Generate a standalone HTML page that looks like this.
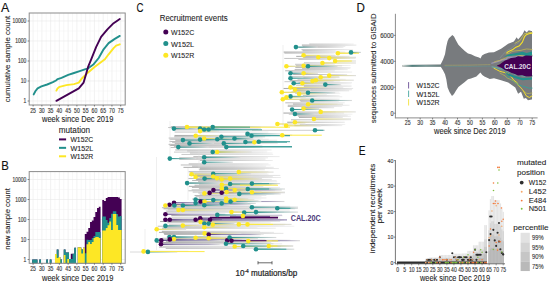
<!DOCTYPE html>
<html><head><meta charset="utf-8"><style>
html,body{margin:0;padding:0;background:#fff;width:550px;height:282px;overflow:hidden}
svg{display:block;font-family:"Liberation Sans",sans-serif}
</style></head><body>
<svg width="550" height="282" viewBox="0 0 550 282">
<line x1="33.1" y1="13" x2="33.1" y2="105" stroke="#e9e9e9" stroke-width="0.6"/>
<line x1="37.48" y1="13" x2="37.48" y2="105" stroke="#f3f3f3" stroke-width="0.6"/>
<line x1="41.86" y1="13" x2="41.86" y2="105" stroke="#e9e9e9" stroke-width="0.6"/>
<line x1="46.24" y1="13" x2="46.24" y2="105" stroke="#f3f3f3" stroke-width="0.6"/>
<line x1="50.62" y1="13" x2="50.62" y2="105" stroke="#e9e9e9" stroke-width="0.6"/>
<line x1="55" y1="13" x2="55" y2="105" stroke="#f3f3f3" stroke-width="0.6"/>
<line x1="59.38" y1="13" x2="59.38" y2="105" stroke="#e9e9e9" stroke-width="0.6"/>
<line x1="63.76" y1="13" x2="63.76" y2="105" stroke="#f3f3f3" stroke-width="0.6"/>
<line x1="68.14" y1="13" x2="68.14" y2="105" stroke="#e9e9e9" stroke-width="0.6"/>
<line x1="72.52" y1="13" x2="72.52" y2="105" stroke="#f3f3f3" stroke-width="0.6"/>
<line x1="76.9" y1="13" x2="76.9" y2="105" stroke="#e9e9e9" stroke-width="0.6"/>
<line x1="81.28" y1="13" x2="81.28" y2="105" stroke="#f3f3f3" stroke-width="0.6"/>
<line x1="85.66" y1="13" x2="85.66" y2="105" stroke="#e9e9e9" stroke-width="0.6"/>
<line x1="90.04" y1="13" x2="90.04" y2="105" stroke="#f3f3f3" stroke-width="0.6"/>
<line x1="94.42" y1="13" x2="94.42" y2="105" stroke="#e9e9e9" stroke-width="0.6"/>
<line x1="98.8" y1="13" x2="98.8" y2="105" stroke="#f3f3f3" stroke-width="0.6"/>
<line x1="103.18" y1="13" x2="103.18" y2="105" stroke="#e9e9e9" stroke-width="0.6"/>
<line x1="107.56" y1="13" x2="107.56" y2="105" stroke="#f3f3f3" stroke-width="0.6"/>
<line x1="111.94" y1="13" x2="111.94" y2="105" stroke="#e9e9e9" stroke-width="0.6"/>
<line x1="116.32" y1="13" x2="116.32" y2="105" stroke="#f3f3f3" stroke-width="0.6"/>
<line x1="120.7" y1="13" x2="120.7" y2="105" stroke="#e9e9e9" stroke-width="0.6"/>
<line x1="125.08" y1="13" x2="125.08" y2="105" stroke="#f3f3f3" stroke-width="0.6"/>
<line x1="29.2" y1="101" x2="125.2" y2="101" stroke="#e9e9e9" stroke-width="0.6"/>
<line x1="29.2" y1="91" x2="125.2" y2="91" stroke="#f3f3f3" stroke-width="0.5"/>
<line x1="29.2" y1="81" x2="125.2" y2="81" stroke="#e9e9e9" stroke-width="0.6"/>
<line x1="29.2" y1="71" x2="125.2" y2="71" stroke="#f3f3f3" stroke-width="0.5"/>
<line x1="29.2" y1="61" x2="125.2" y2="61" stroke="#e9e9e9" stroke-width="0.6"/>
<line x1="29.2" y1="51" x2="125.2" y2="51" stroke="#f3f3f3" stroke-width="0.5"/>
<line x1="29.2" y1="41" x2="125.2" y2="41" stroke="#e9e9e9" stroke-width="0.6"/>
<line x1="29.2" y1="31" x2="125.2" y2="31" stroke="#f3f3f3" stroke-width="0.5"/>
<line x1="29.2" y1="21" x2="125.2" y2="21" stroke="#e9e9e9" stroke-width="0.6"/>
<polyline points="33.7,94.4 35.5,91 37.6,88.3 41.4,86.4 47.2,84.5 52.9,82.2 56,80.5 57.7,79.1 61.5,77.8 68.2,74.9 74,73 79.7,71.1 85.5,69.2 87.5,68.7 93.7,64.2 98.7,58 103.6,49.3 108.6,43.1 114.8,38.9 119.8,35.9" fill="none" stroke="#21908C" stroke-width="1.9" stroke-linejoin="round" stroke-linecap="round"/>
<polyline points="56.4,90.6 57.5,88.5 59.6,86.8 66.3,85.1 74,84.1 78.8,82.6 81.6,78.7 85.5,74.9 87.5,73 94.9,66.7 99.9,63 104.9,59.3 108.6,54.3 113.6,48.1 116.1,45.6 119.8,44.3" fill="none" stroke="#FDE725" stroke-width="1.9" stroke-linejoin="round" stroke-linecap="round"/>
<polyline points="56.4,100.8 78.8,88.3 83.6,82.6 86.4,73 88,67.2 91.2,59.3 96.2,46.8 101.1,36.9 107.4,29.4 113.6,23.2 119.8,19" fill="none" stroke="#440154" stroke-width="1.9" stroke-linejoin="round" stroke-linecap="round"/>
<rect x="29.2" y="13" width="96" height="92" fill="none" stroke="#8c8c8c" stroke-width="1"/>
<line x1="27.6" y1="101" x2="29.2" y2="101" stroke="#3a3a3a" stroke-width="0.6"/>
<text x="26.2" y="103.45" font-size="6.8" fill="#3a3a3a" text-anchor="end" stroke="#3a3a3a" stroke-width="0.15" textLength="2.76" lengthAdjust="spacingAndGlyphs">1</text>
<line x1="27.6" y1="81" x2="29.2" y2="81" stroke="#3a3a3a" stroke-width="0.6"/>
<text x="26.2" y="83.45" font-size="6.8" fill="#3a3a3a" text-anchor="end" stroke="#3a3a3a" stroke-width="0.15" textLength="5.52" lengthAdjust="spacingAndGlyphs">10</text>
<line x1="27.6" y1="61" x2="29.2" y2="61" stroke="#3a3a3a" stroke-width="0.6"/>
<text x="26.2" y="63.45" font-size="6.8" fill="#3a3a3a" text-anchor="end" stroke="#3a3a3a" stroke-width="0.15" textLength="8.28" lengthAdjust="spacingAndGlyphs">100</text>
<line x1="27.6" y1="41" x2="29.2" y2="41" stroke="#3a3a3a" stroke-width="0.6"/>
<text x="26.2" y="43.45" font-size="6.8" fill="#3a3a3a" text-anchor="end" stroke="#3a3a3a" stroke-width="0.15" textLength="11.04" lengthAdjust="spacingAndGlyphs">1000</text>
<line x1="27.6" y1="21" x2="29.2" y2="21" stroke="#3a3a3a" stroke-width="0.6"/>
<text x="26.2" y="23.45" font-size="6.8" fill="#3a3a3a" text-anchor="end" stroke="#3a3a3a" stroke-width="0.15" textLength="13.8" lengthAdjust="spacingAndGlyphs">10000</text>
<line x1="33.1" y1="105" x2="33.1" y2="106.5" stroke="#3a3a3a" stroke-width="0.6"/>
<text x="33.1" y="112.65" font-size="6.8" fill="#3a3a3a" text-anchor="middle" stroke="#3a3a3a" stroke-width="0.15" textLength="5.7" lengthAdjust="spacingAndGlyphs">25</text>
<line x1="41.86" y1="105" x2="41.86" y2="106.5" stroke="#3a3a3a" stroke-width="0.6"/>
<text x="41.86" y="112.65" font-size="6.8" fill="#3a3a3a" text-anchor="middle" stroke="#3a3a3a" stroke-width="0.15" textLength="5.7" lengthAdjust="spacingAndGlyphs">30</text>
<line x1="50.62" y1="105" x2="50.62" y2="106.5" stroke="#3a3a3a" stroke-width="0.6"/>
<text x="50.62" y="112.65" font-size="6.8" fill="#3a3a3a" text-anchor="middle" stroke="#3a3a3a" stroke-width="0.15" textLength="5.7" lengthAdjust="spacingAndGlyphs">35</text>
<line x1="59.38" y1="105" x2="59.38" y2="106.5" stroke="#3a3a3a" stroke-width="0.6"/>
<text x="59.38" y="112.65" font-size="6.8" fill="#3a3a3a" text-anchor="middle" stroke="#3a3a3a" stroke-width="0.15" textLength="5.7" lengthAdjust="spacingAndGlyphs">40</text>
<line x1="68.14" y1="105" x2="68.14" y2="106.5" stroke="#3a3a3a" stroke-width="0.6"/>
<text x="68.14" y="112.65" font-size="6.8" fill="#3a3a3a" text-anchor="middle" stroke="#3a3a3a" stroke-width="0.15" textLength="5.7" lengthAdjust="spacingAndGlyphs">45</text>
<line x1="76.9" y1="105" x2="76.9" y2="106.5" stroke="#3a3a3a" stroke-width="0.6"/>
<text x="76.9" y="112.65" font-size="6.8" fill="#3a3a3a" text-anchor="middle" stroke="#3a3a3a" stroke-width="0.15" textLength="5.7" lengthAdjust="spacingAndGlyphs">50</text>
<line x1="85.66" y1="105" x2="85.66" y2="106.5" stroke="#3a3a3a" stroke-width="0.6"/>
<text x="85.66" y="112.65" font-size="6.8" fill="#3a3a3a" text-anchor="middle" stroke="#3a3a3a" stroke-width="0.15" textLength="5.7" lengthAdjust="spacingAndGlyphs">55</text>
<line x1="94.42" y1="105" x2="94.42" y2="106.5" stroke="#3a3a3a" stroke-width="0.6"/>
<text x="94.42" y="112.65" font-size="6.8" fill="#3a3a3a" text-anchor="middle" stroke="#3a3a3a" stroke-width="0.15" textLength="5.7" lengthAdjust="spacingAndGlyphs">60</text>
<line x1="103.18" y1="105" x2="103.18" y2="106.5" stroke="#3a3a3a" stroke-width="0.6"/>
<text x="103.18" y="112.65" font-size="6.8" fill="#3a3a3a" text-anchor="middle" stroke="#3a3a3a" stroke-width="0.15" textLength="5.7" lengthAdjust="spacingAndGlyphs">65</text>
<line x1="111.94" y1="105" x2="111.94" y2="106.5" stroke="#3a3a3a" stroke-width="0.6"/>
<text x="111.94" y="112.65" font-size="6.8" fill="#3a3a3a" text-anchor="middle" stroke="#3a3a3a" stroke-width="0.15" textLength="5.7" lengthAdjust="spacingAndGlyphs">70</text>
<line x1="120.7" y1="105" x2="120.7" y2="106.5" stroke="#3a3a3a" stroke-width="0.6"/>
<text x="120.7" y="112.65" font-size="6.8" fill="#3a3a3a" text-anchor="middle" stroke="#3a3a3a" stroke-width="0.15" textLength="5.7" lengthAdjust="spacingAndGlyphs">75</text>
<text x="0.9" y="11.68" font-size="13" fill="#111" text-anchor="start" stroke="#111" stroke-width="0.12" textLength="8.3" lengthAdjust="spacingAndGlyphs">A</text>
<text x="7.2" y="61.92" font-size="8.1" fill="#262626" text-anchor="middle" stroke="#262626" stroke-width="0.1" textLength="86.5" lengthAdjust="spacingAndGlyphs" transform="rotate(-90 7.2 59)">cumulative sample count</text>
<text x="77.7" y="122.17" font-size="8.8" fill="#262626" text-anchor="middle" stroke="#262626" stroke-width="0.1" textLength="71.4" lengthAdjust="spacingAndGlyphs">week since Dec 2019</text>
<text x="74.4" y="132.5" font-size="8.6" fill="#262626" text-anchor="middle" stroke="#262626" stroke-width="0.1" textLength="31.3" lengthAdjust="spacingAndGlyphs">mutation</text>
<line x1="59" y1="139.4" x2="66.1" y2="139.4" stroke="#440154" stroke-width="2"/>
<text x="70.4" y="142.21" font-size="7.8" fill="#262626" text-anchor="start" stroke="#262626" stroke-width="0.12" textLength="22.8" lengthAdjust="spacingAndGlyphs">W152C</text>
<line x1="59" y1="147.85" x2="66.1" y2="147.85" stroke="#21908C" stroke-width="2"/>
<text x="70.4" y="150.66" font-size="7.8" fill="#262626" text-anchor="start" stroke="#262626" stroke-width="0.12" textLength="22.8" lengthAdjust="spacingAndGlyphs">W152L</text>
<line x1="59" y1="156.3" x2="66.1" y2="156.3" stroke="#FDE725" stroke-width="2"/>
<text x="70.4" y="159.11" font-size="7.8" fill="#262626" text-anchor="start" stroke="#262626" stroke-width="0.12" textLength="22.8" lengthAdjust="spacingAndGlyphs">W152R</text>
<line x1="33.1" y1="171.6" x2="33.1" y2="263.3" stroke="#e9e9e9" stroke-width="0.6"/>
<line x1="37.48" y1="171.6" x2="37.48" y2="263.3" stroke="#f3f3f3" stroke-width="0.6"/>
<line x1="41.86" y1="171.6" x2="41.86" y2="263.3" stroke="#e9e9e9" stroke-width="0.6"/>
<line x1="46.24" y1="171.6" x2="46.24" y2="263.3" stroke="#f3f3f3" stroke-width="0.6"/>
<line x1="50.62" y1="171.6" x2="50.62" y2="263.3" stroke="#e9e9e9" stroke-width="0.6"/>
<line x1="55" y1="171.6" x2="55" y2="263.3" stroke="#f3f3f3" stroke-width="0.6"/>
<line x1="59.38" y1="171.6" x2="59.38" y2="263.3" stroke="#e9e9e9" stroke-width="0.6"/>
<line x1="63.76" y1="171.6" x2="63.76" y2="263.3" stroke="#f3f3f3" stroke-width="0.6"/>
<line x1="68.14" y1="171.6" x2="68.14" y2="263.3" stroke="#e9e9e9" stroke-width="0.6"/>
<line x1="72.52" y1="171.6" x2="72.52" y2="263.3" stroke="#f3f3f3" stroke-width="0.6"/>
<line x1="76.9" y1="171.6" x2="76.9" y2="263.3" stroke="#e9e9e9" stroke-width="0.6"/>
<line x1="81.28" y1="171.6" x2="81.28" y2="263.3" stroke="#f3f3f3" stroke-width="0.6"/>
<line x1="85.66" y1="171.6" x2="85.66" y2="263.3" stroke="#e9e9e9" stroke-width="0.6"/>
<line x1="90.04" y1="171.6" x2="90.04" y2="263.3" stroke="#f3f3f3" stroke-width="0.6"/>
<line x1="94.42" y1="171.6" x2="94.42" y2="263.3" stroke="#e9e9e9" stroke-width="0.6"/>
<line x1="98.8" y1="171.6" x2="98.8" y2="263.3" stroke="#f3f3f3" stroke-width="0.6"/>
<line x1="103.18" y1="171.6" x2="103.18" y2="263.3" stroke="#e9e9e9" stroke-width="0.6"/>
<line x1="107.56" y1="171.6" x2="107.56" y2="263.3" stroke="#f3f3f3" stroke-width="0.6"/>
<line x1="111.94" y1="171.6" x2="111.94" y2="263.3" stroke="#e9e9e9" stroke-width="0.6"/>
<line x1="116.32" y1="171.6" x2="116.32" y2="263.3" stroke="#f3f3f3" stroke-width="0.6"/>
<line x1="120.7" y1="171.6" x2="120.7" y2="263.3" stroke="#e9e9e9" stroke-width="0.6"/>
<line x1="125.08" y1="171.6" x2="125.08" y2="263.3" stroke="#f3f3f3" stroke-width="0.6"/>
<line x1="29.2" y1="259.5" x2="125.2" y2="259.5" stroke="#e9e9e9" stroke-width="0.6"/>
<line x1="29.2" y1="249.5" x2="125.2" y2="249.5" stroke="#f3f3f3" stroke-width="0.5"/>
<line x1="29.2" y1="239.5" x2="125.2" y2="239.5" stroke="#e9e9e9" stroke-width="0.6"/>
<line x1="29.2" y1="229.5" x2="125.2" y2="229.5" stroke="#f3f3f3" stroke-width="0.5"/>
<line x1="29.2" y1="219.5" x2="125.2" y2="219.5" stroke="#e9e9e9" stroke-width="0.6"/>
<line x1="29.2" y1="209.5" x2="125.2" y2="209.5" stroke="#f3f3f3" stroke-width="0.5"/>
<line x1="29.2" y1="199.5" x2="125.2" y2="199.5" stroke="#e9e9e9" stroke-width="0.6"/>
<line x1="29.2" y1="189.5" x2="125.2" y2="189.5" stroke="#f3f3f3" stroke-width="0.5"/>
<line x1="29.2" y1="179.5" x2="125.2" y2="179.5" stroke="#e9e9e9" stroke-width="0.6"/>
<polygon points="32.22,263.3 32.22,259.5 33.98,259.5 33.98,259.5 35.73,259.5 35.73,259.5 37.48,259.5 37.48,263.3 39.23,263.3 39.23,259.5 40.98,259.5 40.98,263.3 42.74,263.3 42.74,263.3 44.49,263.3 44.49,263.3 46.24,263.3 46.24,259.5 47.99,259.5 47.99,263.3 49.74,263.3 49.74,259.5 51.5,259.5 51.5,263.3 53.25,263.3 53.25,263.3 55,263.3 55,254 56.75,254 56.75,249.5 58.5,249.5 58.5,257 60.26,257 60.26,259.5 62.01,259.5 62.01,263.3 63.76,263.3 63.76,249.5 65.51,249.5 65.51,252.5 67.26,252.5 67.26,252.5 69.02,252.5 69.02,259 70.77,259 70.77,253.7 72.52,253.7 72.52,253.7 74.27,253.7 74.27,247.7 76.02,247.7 76.02,263.3 77.78,263.3 77.78,247.2 79.53,247.2 79.53,247.5 81.28,247.5 81.28,249.5 83.03,249.5 83.03,247.7 84.78,247.7 84.78,234 86.54,234 86.54,231.8 88.29,231.8 88.29,228 90.04,228 90.04,222 91.79,222 91.79,220.5 93.54,220.5 93.54,217 95.3,217 95.3,212 97.05,212 97.05,208 98.8,208 98.8,206.8 100.55,206.8 100.55,263.3 102.3,263.3 102.3,200 104.06,200 104.06,201 105.81,201 105.81,198 107.56,198 107.56,197 109.31,197 109.31,197 111.06,197 111.06,197 112.82,197 112.82,197 114.57,197 114.57,197 116.32,197 116.32,197 118.07,197 118.07,197.5 119.82,197.5 119.82,199 121.58,199 121.58,263.3" fill="#440154"/>
<polygon points="32.22,263.3 32.22,259.5 33.98,259.5 33.98,259.5 35.73,259.5 35.73,259.5 37.48,259.5 37.48,263.3 39.23,263.3 39.23,259.5 40.98,259.5 40.98,263.3 42.74,263.3 42.74,263.3 44.49,263.3 44.49,263.3 46.24,263.3 46.24,259.5 47.99,259.5 47.99,263.3 49.74,263.3 49.74,259.5 51.5,259.5 51.5,263.3 53.25,263.3 53.25,263.3 55,263.3 55,254 56.75,254 56.75,249.5 58.5,249.5 58.5,257 60.26,257 60.26,259.5 62.01,259.5 62.01,263.3 63.76,263.3 63.76,249.5 65.51,249.5 65.51,252.5 67.26,252.5 67.26,252.5 69.02,252.5 69.02,259 70.77,259 70.77,259 72.52,259 72.52,253.7 74.27,253.7 74.27,247.7 76.02,247.7 76.02,263.3 77.78,263.3 77.78,247.2 79.53,247.2 79.53,247.5 81.28,247.5 81.28,249.5 83.03,249.5 83.03,247.7 84.78,247.7 84.78,253.2 86.54,253.2 86.54,239.8 88.29,239.8 88.29,240 90.04,240 90.04,240 91.79,240 91.79,238 93.54,238 93.54,236 95.3,236 95.3,232 97.05,232 97.05,232 98.8,232 98.8,232 100.55,232 100.55,263.3 102.3,263.3 102.3,216.4 104.06,216.4 104.06,216.4 105.81,216.4 105.81,220 107.56,220 107.56,222.8 109.31,222.8 109.31,218 111.06,218 111.06,213.8 112.82,213.8 112.82,211.2 114.57,211.2 114.57,211.2 116.32,211.2 116.32,214 118.07,214 118.07,216.4 119.82,216.4 119.82,216 121.58,216 121.58,263.3" fill="#21908C"/>
<polygon points="32.22,263.3 32.22,263.3 33.98,263.3 33.98,263.3 35.73,263.3 35.73,263.3 37.48,263.3 37.48,263.3 39.23,263.3 39.23,263.3 40.98,263.3 40.98,263.3 42.74,263.3 42.74,263.3 44.49,263.3 44.49,263.3 46.24,263.3 46.24,263.3 47.99,263.3 47.99,263.3 49.74,263.3 49.74,263.3 51.5,263.3 51.5,263.3 53.25,263.3 53.25,263.3 55,263.3 55,254 56.75,254 56.75,258 58.5,258 58.5,257 60.26,257 60.26,263.3 62.01,263.3 62.01,263.3 63.76,263.3 63.76,255 65.51,255 65.51,263.3 67.26,263.3 67.26,259 69.02,259 69.02,263.3 70.77,263.3 70.77,263.3 72.52,263.3 72.52,263.3 74.27,263.3 74.27,263.3 76.02,263.3 76.02,263.3 77.78,263.3 77.78,247.2 79.53,247.2 79.53,247.5 81.28,247.5 81.28,253.4 83.03,253.4 83.03,247.7 84.78,247.7 84.78,263.3 86.54,263.3 86.54,244.3 88.29,244.3 88.29,242 90.04,242 90.04,244 91.79,244 91.79,242 93.54,242 93.54,238 95.3,238 95.3,237 97.05,237 97.05,237 98.8,237 98.8,238 100.55,238 100.55,263.3 102.3,263.3 102.3,230.5 104.06,230.5 104.06,230.5 105.81,230.5 105.81,228 107.56,228 107.56,225.3 109.31,225.3 109.31,221.5 111.06,221.5 111.06,230 112.82,230 112.82,214 114.57,214 114.57,214 116.32,214 116.32,225 118.07,225 118.07,230 119.82,230 119.82,230 121.58,230 121.58,263.3" fill="#FDE725"/>
<rect x="29.2" y="171.6" width="96" height="91.7" fill="none" stroke="#8c8c8c" stroke-width="1"/>
<line x1="27.6" y1="259.5" x2="29.2" y2="259.5" stroke="#3a3a3a" stroke-width="0.6"/>
<text x="26.2" y="261.95" font-size="6.8" fill="#3a3a3a" text-anchor="end" stroke="#3a3a3a" stroke-width="0.15" textLength="2.76" lengthAdjust="spacingAndGlyphs">1</text>
<line x1="27.6" y1="239.5" x2="29.2" y2="239.5" stroke="#3a3a3a" stroke-width="0.6"/>
<text x="26.2" y="241.95" font-size="6.8" fill="#3a3a3a" text-anchor="end" stroke="#3a3a3a" stroke-width="0.15" textLength="5.52" lengthAdjust="spacingAndGlyphs">10</text>
<line x1="27.6" y1="219.5" x2="29.2" y2="219.5" stroke="#3a3a3a" stroke-width="0.6"/>
<text x="26.2" y="221.95" font-size="6.8" fill="#3a3a3a" text-anchor="end" stroke="#3a3a3a" stroke-width="0.15" textLength="8.28" lengthAdjust="spacingAndGlyphs">100</text>
<line x1="27.6" y1="199.5" x2="29.2" y2="199.5" stroke="#3a3a3a" stroke-width="0.6"/>
<text x="26.2" y="201.95" font-size="6.8" fill="#3a3a3a" text-anchor="end" stroke="#3a3a3a" stroke-width="0.15" textLength="11.04" lengthAdjust="spacingAndGlyphs">1000</text>
<line x1="27.6" y1="179.5" x2="29.2" y2="179.5" stroke="#3a3a3a" stroke-width="0.6"/>
<text x="26.2" y="181.95" font-size="6.8" fill="#3a3a3a" text-anchor="end" stroke="#3a3a3a" stroke-width="0.15" textLength="13.8" lengthAdjust="spacingAndGlyphs">10000</text>
<line x1="33.1" y1="263.3" x2="33.1" y2="264.8" stroke="#3a3a3a" stroke-width="0.6"/>
<text x="33.1" y="270.95" font-size="6.8" fill="#3a3a3a" text-anchor="middle" stroke="#3a3a3a" stroke-width="0.15" textLength="5.7" lengthAdjust="spacingAndGlyphs">25</text>
<line x1="41.86" y1="263.3" x2="41.86" y2="264.8" stroke="#3a3a3a" stroke-width="0.6"/>
<text x="41.86" y="270.95" font-size="6.8" fill="#3a3a3a" text-anchor="middle" stroke="#3a3a3a" stroke-width="0.15" textLength="5.7" lengthAdjust="spacingAndGlyphs">30</text>
<line x1="50.62" y1="263.3" x2="50.62" y2="264.8" stroke="#3a3a3a" stroke-width="0.6"/>
<text x="50.62" y="270.95" font-size="6.8" fill="#3a3a3a" text-anchor="middle" stroke="#3a3a3a" stroke-width="0.15" textLength="5.7" lengthAdjust="spacingAndGlyphs">35</text>
<line x1="59.38" y1="263.3" x2="59.38" y2="264.8" stroke="#3a3a3a" stroke-width="0.6"/>
<text x="59.38" y="270.95" font-size="6.8" fill="#3a3a3a" text-anchor="middle" stroke="#3a3a3a" stroke-width="0.15" textLength="5.7" lengthAdjust="spacingAndGlyphs">40</text>
<line x1="68.14" y1="263.3" x2="68.14" y2="264.8" stroke="#3a3a3a" stroke-width="0.6"/>
<text x="68.14" y="270.95" font-size="6.8" fill="#3a3a3a" text-anchor="middle" stroke="#3a3a3a" stroke-width="0.15" textLength="5.7" lengthAdjust="spacingAndGlyphs">45</text>
<line x1="76.9" y1="263.3" x2="76.9" y2="264.8" stroke="#3a3a3a" stroke-width="0.6"/>
<text x="76.9" y="270.95" font-size="6.8" fill="#3a3a3a" text-anchor="middle" stroke="#3a3a3a" stroke-width="0.15" textLength="5.7" lengthAdjust="spacingAndGlyphs">50</text>
<line x1="85.66" y1="263.3" x2="85.66" y2="264.8" stroke="#3a3a3a" stroke-width="0.6"/>
<text x="85.66" y="270.95" font-size="6.8" fill="#3a3a3a" text-anchor="middle" stroke="#3a3a3a" stroke-width="0.15" textLength="5.7" lengthAdjust="spacingAndGlyphs">55</text>
<line x1="94.42" y1="263.3" x2="94.42" y2="264.8" stroke="#3a3a3a" stroke-width="0.6"/>
<text x="94.42" y="270.95" font-size="6.8" fill="#3a3a3a" text-anchor="middle" stroke="#3a3a3a" stroke-width="0.15" textLength="5.7" lengthAdjust="spacingAndGlyphs">60</text>
<line x1="103.18" y1="263.3" x2="103.18" y2="264.8" stroke="#3a3a3a" stroke-width="0.6"/>
<text x="103.18" y="270.95" font-size="6.8" fill="#3a3a3a" text-anchor="middle" stroke="#3a3a3a" stroke-width="0.15" textLength="5.7" lengthAdjust="spacingAndGlyphs">65</text>
<line x1="111.94" y1="263.3" x2="111.94" y2="264.8" stroke="#3a3a3a" stroke-width="0.6"/>
<text x="111.94" y="270.95" font-size="6.8" fill="#3a3a3a" text-anchor="middle" stroke="#3a3a3a" stroke-width="0.15" textLength="5.7" lengthAdjust="spacingAndGlyphs">70</text>
<line x1="120.7" y1="263.3" x2="120.7" y2="264.8" stroke="#3a3a3a" stroke-width="0.6"/>
<text x="120.7" y="270.95" font-size="6.8" fill="#3a3a3a" text-anchor="middle" stroke="#3a3a3a" stroke-width="0.15" textLength="5.7" lengthAdjust="spacingAndGlyphs">75</text>
<text x="1.2" y="169.88" font-size="13" fill="#111" text-anchor="start" stroke="#111" stroke-width="0.12" textLength="7.6" lengthAdjust="spacingAndGlyphs">B</text>
<text x="7.2" y="221.92" font-size="8.1" fill="#262626" text-anchor="middle" stroke="#262626" stroke-width="0.1" textLength="61.6" lengthAdjust="spacingAndGlyphs" transform="rotate(-90 7.2 219)">new sample count</text>
<text x="77.7" y="280.77" font-size="8.8" fill="#262626" text-anchor="middle" stroke="#262626" stroke-width="0.1" textLength="71.4" lengthAdjust="spacingAndGlyphs">week since Dec 2019</text>
<text x="136.6" y="12.48" font-size="13" fill="#111" text-anchor="start" stroke="#111" stroke-width="0.12" textLength="7" lengthAdjust="spacingAndGlyphs">C</text>
<text x="159.8" y="21.12" font-size="8.4" fill="#262626" text-anchor="start" stroke="#262626" stroke-width="0.1" textLength="67.9" lengthAdjust="spacingAndGlyphs">Recruitment events</text>
<circle cx="165.8" cy="32" r="2.5" fill="#440154"/>
<text x="170.9" y="34.96" font-size="7.4" fill="#262626" text-anchor="start" stroke="#262626" stroke-width="0.1" textLength="23.3" lengthAdjust="spacingAndGlyphs">W152C</text>
<circle cx="165.8" cy="43.6" r="2.5" fill="#21908C"/>
<text x="170.9" y="46.56" font-size="7.4" fill="#262626" text-anchor="start" stroke="#262626" stroke-width="0.1" textLength="23.3" lengthAdjust="spacingAndGlyphs">W152L</text>
<circle cx="165.8" cy="55.2" r="2.5" fill="#FDE725"/>
<text x="170.9" y="58.16" font-size="7.4" fill="#262626" text-anchor="start" stroke="#262626" stroke-width="0.1" textLength="23.3" lengthAdjust="spacingAndGlyphs">W152R</text>
<defs><linearGradient id="g1"><stop offset="0" stop-color="#aaaaaa"/><stop offset="0.55" stop-color="#c6c6c6"/><stop offset="1" stop-color="#e8e8e8"/></linearGradient><linearGradient id="g2"><stop offset="0" stop-color="#bbbbbb"/><stop offset="0.6" stop-color="#d2d2d2"/><stop offset="1" stop-color="#eeeeee"/></linearGradient><linearGradient id="g3"><stop offset="0" stop-color="#a8a8a8"/><stop offset="0.5" stop-color="#c8c8c8"/><stop offset="1" stop-color="#e6e6e6"/></linearGradient><linearGradient id="tT"><stop offset="0" stop-color="#21908C"/><stop offset="0.5" stop-color="#7fb3b0"/><stop offset="1" stop-color="#dcdcdc"/></linearGradient><linearGradient id="tY"><stop offset="0" stop-color="#f0dc40"/><stop offset="0.35" stop-color="#dcd68e"/><stop offset="1" stop-color="#dedede"/></linearGradient><linearGradient id="tP"><stop offset="0" stop-color="#5a3a7e"/><stop offset="0.25" stop-color="#8a7fa8"/><stop offset="0.8" stop-color="#aaa3bf"/><stop offset="1" stop-color="#dcdcdc"/></linearGradient></defs>
<rect x="309.21" y="43.6" width="44.49" height="0.8" fill="url(#g2)"/>
<rect x="301.85" y="44.57" width="54.51" height="1.1" fill="url(#g1)"/>
<rect x="302.54" y="46.06" width="42.82" height="0.8" fill="url(#g1)"/>
<rect x="299.18" y="46.93" width="44.27" height="1" fill="url(#g2)"/>
<rect x="301.5" y="49.22" width="51.44" height="1" fill="url(#g2)"/>
<rect x="302.57" y="50.33" width="33.1" height="1" fill="url(#g3)"/>
<rect x="283.62" y="51.53" width="61.64" height="1.1" fill="url(#g1)"/>
<rect x="284.4" y="52.63" width="49.93" height="0.9" fill="url(#g1)"/>
<rect x="296.22" y="55.86" width="53.35" height="1" fill="url(#g3)"/>
<rect x="303.25" y="56.89" width="45.92" height="0.9" fill="url(#g1)"/>
<rect x="284.26" y="57.94" width="65.68" height="0.9" fill="url(#g2)"/>
<rect x="298.37" y="59.12" width="38.25" height="0.8" fill="url(#g2)"/>
<rect x="303.96" y="62.37" width="30.44" height="1.1" fill="url(#g2)"/>
<rect x="295.12" y="63.82" width="39.73" height="0.9" fill="url(#g2)"/>
<rect x="295.82" y="64.99" width="54.79" height="0.8" fill="url(#g2)"/>
<rect x="296.37" y="65.87" width="37.94" height="1" fill="url(#g3)"/>
<rect x="295.33" y="67.02" width="55.31" height="1.1" fill="url(#g2)"/>
<rect x="302.08" y="68.14" width="48.28" height="0.9" fill="url(#g2)"/>
<rect x="294.63" y="69.06" width="53.11" height="1.1" fill="url(#g2)"/>
<rect x="285.18" y="70.35" width="49.59" height="0.9" fill="url(#g3)"/>
<rect x="291.84" y="71.55" width="60.26" height="1" fill="url(#g2)"/>
<rect x="293.07" y="74.04" width="54" height="1" fill="url(#g1)"/>
<rect x="291.64" y="76.38" width="47.34" height="0.9" fill="url(#g1)"/>
<rect x="303.43" y="77.34" width="32.41" height="1.1" fill="url(#g2)"/>
<rect x="297.52" y="78.83" width="48.17" height="0.8" fill="url(#g2)"/>
<rect x="290.51" y="80.15" width="49.73" height="0.8" fill="url(#g1)"/>
<rect x="284.41" y="81.34" width="55.81" height="0.8" fill="url(#g2)"/>
<rect x="298.48" y="82.22" width="53.53" height="1" fill="url(#g2)"/>
<rect x="301.92" y="83.41" width="49.5" height="0.8" fill="url(#g2)"/>
<rect x="296.12" y="84.71" width="45.52" height="0.8" fill="url(#g1)"/>
<rect x="303.86" y="85.54" width="47.74" height="1.1" fill="url(#g3)"/>
<rect x="292.61" y="87.01" width="50.64" height="0.8" fill="url(#g1)"/>
<rect x="283.47" y="87.94" width="69.68" height="1.1" fill="url(#g1)"/>
<rect x="293.21" y="89.25" width="58.72" height="1" fill="url(#g3)"/>
<rect x="293.89" y="90.21" width="55.19" height="1.1" fill="url(#g3)"/>
<rect x="291.5" y="91.46" width="47.51" height="0.9" fill="url(#g2)"/>
<rect x="295.25" y="92.76" width="45.08" height="0.9" fill="url(#g2)"/>
<rect x="302.95" y="95.25" width="36.59" height="0.8" fill="url(#g2)"/>
<rect x="287.5" y="96.28" width="54.78" height="1" fill="url(#g2)"/>
<rect x="300.4" y="98.71" width="39.16" height="1" fill="url(#g1)"/>
<rect x="299.62" y="99.84" width="34.76" height="1.1" fill="url(#g2)"/>
<rect x="300.42" y="101.12" width="38.33" height="0.8" fill="url(#g2)"/>
<rect x="285.29" y="102.47" width="59.42" height="0.8" fill="url(#g3)"/>
<rect x="292.98" y="103.54" width="44.6" height="1.1" fill="url(#g1)"/>
<rect x="287.76" y="104.71" width="61.82" height="1.1" fill="url(#g2)"/>
<rect x="287.7" y="106.09" width="54.51" height="0.9" fill="url(#g2)"/>
<rect x="301.63" y="107.13" width="32.5" height="1.1" fill="url(#g3)"/>
<rect x="291.19" y="111.51" width="44.56" height="1" fill="url(#g3)"/>
<rect x="283.33" y="112.52" width="60.77" height="1.1" fill="url(#g1)"/>
<rect x="288.78" y="113.76" width="63.61" height="0.8" fill="url(#g2)"/>
<rect x="294.2" y="114.73" width="53.54" height="1.1" fill="url(#g2)"/>
<rect x="298.19" y="115.74" width="52.6" height="1.1" fill="url(#g2)"/>
<rect x="298.91" y="117.02" width="43.87" height="0.9" fill="url(#g3)"/>
<rect x="291.01" y="119.3" width="59.9" height="1" fill="url(#g2)"/>
<rect x="287.22" y="121.7" width="57.5" height="1.1" fill="url(#g1)"/>
<rect x="299.82" y="123.97" width="45.43" height="0.8" fill="url(#g2)"/>
<rect x="294.31" y="125.1" width="47.96" height="1" fill="url(#g2)"/>
<rect x="170.72" y="126.14" width="104.8" height="1" fill="url(#g2)"/>
<rect x="168.24" y="127.24" width="91.27" height="0.8" fill="url(#g1)"/>
<rect x="173.5" y="128.21" width="87.56" height="0.9" fill="url(#g3)"/>
<rect x="173.85" y="129.41" width="82.22" height="0.9" fill="url(#g3)"/>
<rect x="174.6" y="131.6" width="93.79" height="0.9" fill="url(#g2)"/>
<rect x="174.48" y="134.95" width="101.08" height="1" fill="url(#g3)"/>
<rect x="174.23" y="136.31" width="83.64" height="0.9" fill="url(#g1)"/>
<rect x="168.71" y="137.51" width="93.99" height="1.1" fill="url(#g2)"/>
<rect x="169.61" y="138.83" width="99.09" height="0.8" fill="url(#g1)"/>
<rect x="175.29" y="139.76" width="101.92" height="1" fill="url(#g1)"/>
<rect x="169.51" y="141.01" width="85.25" height="0.8" fill="url(#g1)"/>
<rect x="172.12" y="141.93" width="95.1" height="0.9" fill="url(#g2)"/>
<rect x="174.72" y="143" width="103.04" height="0.8" fill="url(#g1)"/>
<rect x="168.62" y="143.86" width="86.8" height="1.1" fill="url(#g2)"/>
<rect x="169.68" y="145.08" width="92.65" height="0.9" fill="url(#g1)"/>
<rect x="173.91" y="146.1" width="89.22" height="0.9" fill="url(#g2)"/>
<rect x="170.59" y="147.09" width="84.53" height="0.9" fill="url(#g2)"/>
<rect x="175.29" y="149.41" width="96.32" height="1.1" fill="url(#g2)"/>
<rect x="187.09" y="150.51" width="80.31" height="0.9" fill="url(#g2)"/>
<rect x="173.98" y="151.68" width="92.86" height="0.8" fill="url(#g2)"/>
<rect x="189.88" y="152.53" width="82.6" height="1" fill="url(#g2)"/>
<rect x="181.46" y="153.96" width="91.74" height="0.8" fill="url(#g2)"/>
<rect x="193.33" y="156.27" width="86.27" height="0.8" fill="url(#g1)"/>
<rect x="179.19" y="157.42" width="88.85" height="0.9" fill="url(#g1)"/>
<rect x="179.24" y="158.53" width="86.27" height="1.1" fill="url(#g3)"/>
<rect x="199.86" y="160.01" width="72.9" height="0.8" fill="url(#g1)"/>
<rect x="188.7" y="163.36" width="79.89" height="1.1" fill="url(#g2)"/>
<rect x="180.75" y="164.48" width="89.86" height="1" fill="url(#g2)"/>
<rect x="192.06" y="165.7" width="73.86" height="0.9" fill="url(#g1)"/>
<rect x="183.45" y="166.84" width="90.24" height="1" fill="url(#g1)"/>
<rect x="199.69" y="168.14" width="79.2" height="0.9" fill="url(#g1)"/>
<rect x="199.25" y="169.16" width="65.63" height="1.1" fill="url(#g1)"/>
<rect x="188.6" y="171.31" width="79.82" height="0.9" fill="url(#g1)"/>
<rect x="189.86" y="172.51" width="77.23" height="1.1" fill="url(#g2)"/>
<rect x="194.99" y="173.69" width="73.5" height="1" fill="url(#g2)"/>
<rect x="189.37" y="174.93" width="90.95" height="1" fill="url(#g3)"/>
<rect x="194.78" y="176.04" width="78.01" height="0.9" fill="url(#g3)"/>
<rect x="199.76" y="177.12" width="81.14" height="0.8" fill="url(#g1)"/>
<rect x="188.32" y="177.97" width="70.63" height="1" fill="url(#g2)"/>
<rect x="196.12" y="178.9" width="75.65" height="1.1" fill="url(#g3)"/>
<rect x="192.12" y="180.19" width="84.5" height="0.8" fill="url(#g1)"/>
<rect x="198.06" y="181.17" width="79.17" height="1.1" fill="url(#g2)"/>
<rect x="189.81" y="182.47" width="72.03" height="1" fill="url(#g3)"/>
<rect x="199.05" y="183.74" width="69.64" height="0.8" fill="url(#g3)"/>
<rect x="194.52" y="184.72" width="74.28" height="1.1" fill="url(#g2)"/>
<rect x="188.91" y="185.84" width="74.42" height="1" fill="url(#g1)"/>
<rect x="191.94" y="186.99" width="88.11" height="1" fill="url(#g2)"/>
<rect x="198.88" y="188.2" width="67.19" height="1" fill="url(#g2)"/>
<rect x="191.66" y="189.38" width="74.28" height="0.9" fill="url(#g2)"/>
<rect x="188.29" y="190.36" width="86.64" height="0.9" fill="url(#g2)"/>
<rect x="192.68" y="191.61" width="69.19" height="0.9" fill="url(#g2)"/>
<rect x="198.26" y="192.65" width="80.04" height="0.8" fill="url(#g2)"/>
<rect x="199.6" y="193.81" width="74.68" height="0.8" fill="url(#g2)"/>
<rect x="194.55" y="195" width="71.82" height="0.8" fill="url(#g3)"/>
<rect x="195.61" y="196.26" width="65.99" height="0.9" fill="url(#g2)"/>
<rect x="198.89" y="197.39" width="67.56" height="1.1" fill="url(#g2)"/>
<rect x="192" y="198.63" width="69.42" height="0.8" fill="url(#g2)"/>
<rect x="168.52" y="205.83" width="121.55" height="1.1" fill="url(#g2)"/>
<rect x="161.95" y="207.19" width="123.11" height="1" fill="url(#g2)"/>
<rect x="163.5" y="208.18" width="131.59" height="1.1" fill="url(#g1)"/>
<rect x="167.78" y="209.4" width="121.5" height="0.8" fill="url(#g2)"/>
<rect x="165.77" y="210.65" width="124.24" height="0.8" fill="url(#g3)"/>
<rect x="167.06" y="211.63" width="116.94" height="0.9" fill="url(#g2)"/>
<rect x="171.3" y="215.09" width="111.21" height="1.1" fill="url(#g3)"/>
<rect x="171.48" y="217.48" width="108.99" height="1.1" fill="url(#g2)"/>
<rect x="166.33" y="219.87" width="115.14" height="0.8" fill="url(#g3)"/>
<rect x="160.13" y="220.94" width="120.05" height="1.1" fill="url(#g3)"/>
<rect x="167.27" y="222.26" width="103.45" height="1" fill="url(#g2)"/>
<rect x="168.9" y="224.59" width="115.68" height="0.9" fill="url(#g1)"/>
<rect x="157.66" y="225.77" width="136.57" height="0.9" fill="url(#g2)"/>
<rect x="164.31" y="226.65" width="93.06" height="1.1" fill="url(#g2)"/>
<rect x="162.06" y="227.73" width="113.7" height="0.9" fill="url(#g1)"/>
<rect x="161.83" y="230.82" width="98.26" height="1" fill="url(#g3)"/>
<rect x="158.97" y="231.89" width="115.05" height="1" fill="url(#g1)"/>
<rect x="163.68" y="232.82" width="119.73" height="1.1" fill="url(#g1)"/>
<rect x="164.23" y="233.78" width="99.46" height="1.1" fill="url(#g1)"/>
<rect x="166.72" y="236.38" width="93.13" height="1" fill="url(#g2)"/>
<rect x="162.22" y="237.76" width="94.69" height="0.9" fill="url(#g2)"/>
<rect x="159.03" y="238.81" width="106.3" height="1" fill="url(#g2)"/>
<rect x="156.32" y="239.99" width="124.65" height="0.9" fill="url(#g2)"/>
<rect x="165.88" y="241.06" width="113.79" height="0.8" fill="url(#g1)"/>
<rect x="156.61" y="242" width="114.69" height="1" fill="url(#g1)"/>
<rect x="161.65" y="243.27" width="120.48" height="1.1" fill="url(#g2)"/>
<rect x="162.97" y="245.76" width="104.33" height="0.8" fill="url(#g2)"/>
<rect x="158.99" y="246.76" width="113.87" height="0.9" fill="url(#g2)"/>
<rect x="165.73" y="247.87" width="114.79" height="1" fill="url(#g2)"/>
<line x1="283" y1="45" x2="283" y2="126" stroke="#dedede" stroke-width="0.5"/>
<line x1="170" y1="121" x2="170" y2="159" stroke="#dedede" stroke-width="0.5"/>
<line x1="156.5" y1="157" x2="156.5" y2="250" stroke="#dedede" stroke-width="0.5"/>
<line x1="145" y1="229" x2="145" y2="252" stroke="#dedede" stroke-width="0.5"/>
<line x1="188" y1="168" x2="188" y2="200" stroke="#dedede" stroke-width="0.5"/>
<line x1="199" y1="150" x2="199" y2="170" stroke="#dedede" stroke-width="0.5"/>
<line x1="130" y1="252" x2="147" y2="252" stroke="#d0d0d0" stroke-width="0.8"/>
<rect x="295.9" y="46.55" width="21.87" height="1.1" fill="url(#tT)"/>
<rect x="337.9" y="52.65" width="18.1" height="1.1" fill="url(#tY)"/>
<rect x="351" y="51.85" width="10" height="1.1" fill="url(#tT)"/>
<rect x="303.6" y="54.75" width="31.98" height="1.1" fill="url(#tY)"/>
<rect x="318.3" y="56.75" width="37.7" height="1.1" fill="url(#tY)"/>
<rect x="329.2" y="57.55" width="26.45" height="1.1" fill="url(#tY)"/>
<rect x="335.1" y="60.45" width="20.9" height="1.1" fill="url(#tY)"/>
<rect x="322.4" y="62.45" width="33.6" height="1.1" fill="url(#tY)"/>
<rect x="286.4" y="65.75" width="17.52" height="1.1" fill="url(#tY)"/>
<rect x="303.6" y="65.25" width="38.46" height="1.1" fill="url(#tY)"/>
<rect x="308" y="65.75" width="29.56" height="1.1" fill="url(#tT)"/>
<rect x="290.5" y="72.75" width="17.54" height="1.1" fill="url(#tT)"/>
<rect x="303.6" y="72.75" width="14.33" height="1.1" fill="url(#tY)"/>
<rect x="320.7" y="76.65" width="18.85" height="1.1" fill="url(#tY)"/>
<rect x="329.2" y="75.05" width="26.8" height="1.1" fill="url(#tY)"/>
<rect x="290.5" y="77.65" width="31.52" height="1.1" fill="url(#tT)"/>
<rect x="312.5" y="80.45" width="21.22" height="1.1" fill="url(#tY)"/>
<rect x="315.8" y="79.65" width="38.01" height="1.1" fill="url(#tY)"/>
<rect x="293.7" y="82.75" width="22.11" height="1.1" fill="url(#tT)"/>
<rect x="302.4" y="82.75" width="24.96" height="1.1" fill="url(#tY)"/>
<rect x="325.3" y="84.05" width="15.47" height="1.1" fill="url(#tT)"/>
<rect x="290.5" y="86.85" width="39.26" height="1.1" fill="url(#tY)"/>
<rect x="294.9" y="89.25" width="15.8" height="1.1" fill="url(#tY)"/>
<rect x="281.8" y="91.75" width="37.31" height="1.1" fill="url(#tY)"/>
<rect x="308" y="92.25" width="27.22" height="1.1" fill="url(#tT)"/>
<rect x="299.1" y="93.35" width="27.7" height="1.1" fill="url(#tY)"/>
<rect x="290.5" y="95.85" width="27.69" height="1.1" fill="url(#tT)"/>
<rect x="286.4" y="96.65" width="19.4" height="1.1" fill="url(#tY)"/>
<rect x="282.8" y="98.75" width="37.46" height="1.1" fill="url(#tY)"/>
<rect x="312.2" y="99.95" width="39.78" height="1.1" fill="url(#tT)"/>
<rect x="308.1" y="103.65" width="34.89" height="1.1" fill="url(#tY)"/>
<rect x="292.1" y="108.95" width="28.84" height="1.1" fill="url(#tT)"/>
<rect x="303.6" y="108.05" width="15.43" height="1.1" fill="url(#tY)"/>
<rect x="320.7" y="111.35" width="35.09" height="1.1" fill="url(#tY)"/>
<rect x="294.9" y="113.45" width="20.08" height="1.1" fill="url(#tT)"/>
<rect x="313.9" y="118.45" width="37.12" height="1.1" fill="url(#tY)"/>
<rect x="294.9" y="121.65" width="18.74" height="1.1" fill="url(#tY)"/>
<rect x="277.4" y="123.45" width="28.06" height="1.1" fill="url(#tY)"/>
<rect x="286.1" y="125.25" width="35.26" height="1.1" fill="url(#tY)"/>
<rect x="173.9" y="128.05" width="23.94" height="1.1" fill="url(#tT)"/>
<rect x="187" y="126.45" width="35.53" height="1.1" fill="url(#tY)"/>
<rect x="200.1" y="128.05" width="20.44" height="1.1" fill="url(#tT)"/>
<rect x="200.1" y="130.55" width="19.02" height="1.1" fill="url(#tY)"/>
<rect x="204.2" y="128.95" width="23.76" height="1.1" fill="url(#tT)"/>
<rect x="208.6" y="128.95" width="49.58" height="1.1" fill="url(#tT)"/>
<rect x="212.7" y="126.45" width="48.06" height="1.1" fill="url(#tT)"/>
<rect x="247.5" y="133.35" width="32.5" height="1.1" fill="url(#tT)"/>
<rect x="195.7" y="135.15" width="27.84" height="1.1" fill="url(#tY)"/>
<rect x="182.9" y="139.55" width="39.48" height="1.1" fill="url(#tT)"/>
<rect x="200.1" y="139.05" width="41.61" height="1.1" fill="url(#tT)"/>
<rect x="204.2" y="137.95" width="30.21" height="1.1" fill="url(#tY)"/>
<rect x="217.3" y="138.75" width="36.94" height="1.1" fill="url(#tT)"/>
<rect x="221.4" y="136.25" width="43.72" height="1.1" fill="url(#tT)"/>
<rect x="234.5" y="137.95" width="18.52" height="1.1" fill="url(#tT)"/>
<rect x="189.5" y="142.85" width="24.39" height="1.1" fill="url(#tT)"/>
<rect x="223.8" y="142.85" width="32.98" height="1.1" fill="url(#tT)"/>
<rect x="245.4" y="141.45" width="22.58" height="1.1" fill="url(#tT)"/>
<rect x="178.3" y="146.55" width="30.36" height="1.1" fill="url(#tT)"/>
<rect x="226.3" y="146.55" width="36.22" height="1.1" fill="url(#tT)"/>
<rect x="212.7" y="151.45" width="23.56" height="1.1" fill="url(#tT)"/>
<rect x="217.1" y="151.45" width="34.63" height="1.1" fill="url(#tY)"/>
<rect x="169.8" y="158.05" width="26.44" height="1.1" fill="url(#tT)"/>
<rect x="204.2" y="156.75" width="36.18" height="1.1" fill="url(#tT)"/>
<rect x="204.2" y="161.65" width="28.63" height="1.1" fill="url(#tT)"/>
<rect x="315" y="129.75" width="10" height="1.1" fill="url(#tT)"/>
<rect x="251.5" y="135.15" width="19.21" height="1.1" fill="url(#tT)"/>
<rect x="282.2" y="134.65" width="10" height="1.1" fill="url(#tY)"/>
<rect x="254.4" y="141.65" width="22.63" height="1.1" fill="url(#tY)"/>
<rect x="258.8" y="141.15" width="21.2" height="1.1" fill="url(#tT)"/>
<rect x="191.6" y="173.65" width="37.2" height="1.1" fill="url(#tY)"/>
<rect x="195.6" y="176.45" width="33.04" height="1.1" fill="url(#tY)"/>
<rect x="204.6" y="178.05" width="31.17" height="1.1" fill="url(#tT)"/>
<rect x="213.2" y="173.15" width="37.96" height="1.1" fill="url(#tT)"/>
<rect x="213.2" y="175.95" width="40.06" height="1.1" fill="url(#tY)"/>
<rect x="216.9" y="177.65" width="42.26" height="1.1" fill="url(#tY)"/>
<rect x="221.7" y="178.95" width="42.05" height="1.1" fill="url(#tY)"/>
<rect x="187.1" y="182.55" width="33.55" height="1.1" fill="url(#tT)"/>
<rect x="221.8" y="184.15" width="49.83" height="1.1" fill="url(#tY)"/>
<rect x="226" y="187.95" width="44.82" height="1.1" fill="url(#tT)"/>
<rect x="221.8" y="187.95" width="45.36" height="1.1" fill="url(#tY)"/>
<rect x="213.4" y="189.45" width="68.41" height="1.1" fill="url(#tP)"/>
<rect x="209.6" y="192.35" width="69.53" height="1.1" fill="url(#tP)"/>
<rect x="204.4" y="192.85" width="36.11" height="1.1" fill="url(#tY)"/>
<rect x="221.7" y="192.15" width="63.3" height="1.1" fill="url(#tP)"/>
<rect x="226.6" y="191.55" width="34.83" height="1.1" fill="url(#tY)"/>
<rect x="238.8" y="171.55" width="34.8" height="1.1" fill="url(#tY)"/>
<rect x="230.1" y="178.05" width="31.83" height="1.1" fill="url(#tY)"/>
<rect x="230.1" y="183.45" width="46.94" height="1.1" fill="url(#tT)"/>
<rect x="251.9" y="183.05" width="28.26" height="1.1" fill="url(#tT)"/>
<rect x="234.7" y="189.55" width="19.75" height="1.1" fill="url(#tY)"/>
<rect x="247.8" y="188.45" width="37.2" height="1.1" fill="url(#tT)"/>
<rect x="251.9" y="191.65" width="33.1" height="1.1" fill="url(#tY)"/>
<rect x="239.3" y="193.35" width="41.42" height="1.1" fill="url(#tT)"/>
<rect x="195.6" y="198.95" width="37.12" height="1.1" fill="url(#tT)"/>
<rect x="200.6" y="200.95" width="83.83" height="1.1" fill="url(#tP)"/>
<rect x="204.6" y="200.95" width="27.75" height="1.1" fill="url(#tY)"/>
<rect x="195.6" y="202.55" width="36.99" height="1.1" fill="url(#tT)"/>
<rect x="213.3" y="199.55" width="20.23" height="1.1" fill="url(#tT)"/>
<rect x="226.2" y="198.05" width="21.98" height="1.1" fill="url(#tY)"/>
<rect x="226.2" y="200.25" width="32.3" height="1.1" fill="url(#tY)"/>
<rect x="221.7" y="202.85" width="34.08" height="1.1" fill="url(#tT)"/>
<rect x="230.6" y="200.95" width="30.7" height="1.1" fill="url(#tT)"/>
<rect x="234.7" y="199.25" width="19.66" height="1.1" fill="url(#tY)"/>
<rect x="169.5" y="204.15" width="81.27" height="1.1" fill="url(#tP)"/>
<rect x="174" y="202.25" width="73.68" height="1.1" fill="url(#tP)"/>
<rect x="174.4" y="204.95" width="25.65" height="1.1" fill="url(#tT)"/>
<rect x="165.4" y="204.95" width="27.8" height="1.1" fill="url(#tY)"/>
<rect x="182.9" y="204.95" width="30.66" height="1.1" fill="url(#tT)"/>
<rect x="204.3" y="204.65" width="25.55" height="1.1" fill="url(#tT)"/>
<rect x="178.5" y="209.45" width="20.19" height="1.1" fill="url(#tY)"/>
<rect x="182.9" y="209.45" width="47.16" height="1.1" fill="url(#tY)"/>
<rect x="251.9" y="206.65" width="46.1" height="1.1" fill="url(#tT)"/>
<rect x="277.3" y="207.75" width="20.7" height="1.1" fill="url(#tT)"/>
<rect x="231.5" y="211.55" width="45.73" height="1.1" fill="url(#tY)"/>
<rect x="244.2" y="212.05" width="31.48" height="1.1" fill="url(#tT)"/>
<rect x="256" y="211.55" width="42" height="1.1" fill="url(#tT)"/>
<rect x="165.4" y="213.65" width="59.98" height="1.1" fill="url(#tP)"/>
<rect x="217.3" y="214.35" width="41.89" height="1.1" fill="url(#tT)"/>
<rect x="242.9" y="215.35" width="36.14" height="1.1" fill="url(#tY)"/>
<rect x="165.4" y="219.25" width="90.65" height="1.1" fill="url(#tP)"/>
<rect x="169.8" y="219.25" width="54.44" height="1.1" fill="url(#tP)"/>
<rect x="195.6" y="219.25" width="85.66" height="1.1" fill="url(#tP)"/>
<rect x="200.2" y="217.65" width="55.57" height="1.1" fill="url(#tP)"/>
<rect x="210" y="219.25" width="74.19" height="1.1" fill="url(#tP)"/>
<rect x="200.6" y="221.35" width="48.43" height="1.1" fill="url(#tY)"/>
<rect x="204.3" y="223.05" width="18.02" height="1.1" fill="url(#tT)"/>
<rect x="208.7" y="223.05" width="25.81" height="1.1" fill="url(#tT)"/>
<rect x="212.8" y="224.15" width="27.58" height="1.1" fill="url(#tY)"/>
<rect x="165.4" y="225.35" width="28.39" height="1.1" fill="url(#tT)"/>
<rect x="182.8" y="225.05" width="20" height="1.1" fill="url(#tY)"/>
<rect x="238.8" y="223.85" width="46.64" height="1.1" fill="url(#tY)"/>
<rect x="247.5" y="223.85" width="44.09" height="1.1" fill="url(#tY)"/>
<rect x="204.3" y="226.75" width="30.71" height="1.1" fill="url(#tY)"/>
<rect x="156.7" y="228.75" width="29.41" height="1.1" fill="url(#tY)"/>
<rect x="204.6" y="232.85" width="36.74" height="1.1" fill="url(#tY)"/>
<rect x="208.7" y="234.05" width="52.07" height="1.1" fill="url(#tP)"/>
<rect x="169.5" y="236.55" width="19" height="1.1" fill="url(#tT)"/>
<rect x="174" y="236.55" width="46.75" height="1.1" fill="url(#tT)"/>
<rect x="174" y="238.55" width="27.85" height="1.1" fill="url(#tY)"/>
<rect x="169.8" y="238.85" width="72.43" height="1.1" fill="url(#tP)"/>
<rect x="195.6" y="237.25" width="47.89" height="1.1" fill="url(#tY)"/>
<rect x="208.7" y="237.75" width="49.27" height="1.1" fill="url(#tY)"/>
<rect x="156.7" y="239.85" width="33.12" height="1.1" fill="url(#tT)"/>
<rect x="161.3" y="239.85" width="59.29" height="1.1" fill="url(#tP)"/>
<rect x="227.2" y="239.85" width="63.29" height="1.1" fill="url(#tP)"/>
<rect x="226" y="243.15" width="47.52" height="1.1" fill="url(#tT)"/>
<rect x="229.6" y="236.95" width="46.7" height="1.1" fill="url(#tT)"/>
<rect x="161" y="243.75" width="58.8" height="1.1" fill="url(#tP)"/>
<rect x="143.6" y="250.85" width="44.81" height="1.1" fill="url(#tY)"/>
<rect x="147.9" y="251.35" width="29.33" height="1.1" fill="url(#tT)"/>
<rect x="231.5" y="240.15" width="68.5" height="1.1" fill="url(#tP)"/>
<rect x="248.2" y="240.55" width="23.5" height="1.1" fill="url(#tY)"/>
<rect x="234.7" y="245.95" width="46.15" height="1.1" fill="url(#tY)"/>
<rect x="243.2" y="245.45" width="49.85" height="1.1" fill="url(#tT)"/>
<rect x="268.8" y="245.45" width="24.46" height="1.1" fill="url(#tY)"/>
<rect x="256" y="248.65" width="38.24" height="1.1" fill="url(#tT)"/>
<line x1="252" y1="130.3" x2="315" y2="130.3" stroke="#cdcdcd" stroke-width="1"/>
<line x1="337.9" y1="53.2" x2="359" y2="53.2" stroke="#fdeb46" stroke-width="1"/>
<line x1="335.1" y1="61" x2="351.8" y2="61" stroke="#fdeb46" stroke-width="1"/>
<line x1="187" y1="127.2" x2="290" y2="127.2" stroke="#fdeb46" stroke-width="1"/>
<line x1="315" y1="130.3" x2="323.5" y2="130.3" stroke="#42a19d" stroke-width="1"/>
<line x1="282.2" y1="135.2" x2="321.8" y2="135.2" stroke="#fdeb46" stroke-width="1"/>
<line x1="251.5" y1="135.7" x2="290" y2="135.7" stroke="#42a19d" stroke-width="1.2"/>
<line x1="258.8" y1="141.7" x2="290" y2="141.7" stroke="#42a19d" stroke-width="1"/>
<line x1="226.3" y1="146.7" x2="292" y2="146.7" stroke="#42a19d" stroke-width="1.4"/>
<line x1="251.9" y1="183.6" x2="269" y2="183.6" stroke="#42a19d" stroke-width="1"/>
<line x1="240" y1="185.2" x2="278" y2="185.2" stroke="#fdeb46" stroke-width="1"/>
<line x1="247.8" y1="189" x2="269" y2="189" stroke="#42a19d" stroke-width="1"/>
<line x1="277.3" y1="208.3" x2="290.4" y2="208.3" stroke="#42a19d" stroke-width="1"/>
<line x1="247.5" y1="224.4" x2="273" y2="224.4" stroke="#fdeb46" stroke-width="1"/>
<line x1="143.6" y1="251.6" x2="204.6" y2="251.6" stroke="#fdeb46" stroke-width="1"/>
<line x1="231.5" y1="240.7" x2="266.6" y2="240.7" stroke="#60276e" stroke-width="1.2"/>
<line x1="266.6" y1="240.9" x2="278" y2="240.9" stroke="#fdeb46" stroke-width="1"/>
<line x1="268.8" y1="246" x2="277.3" y2="246" stroke="#fdeb46" stroke-width="1"/>
<line x1="256" y1="249.2" x2="286.3" y2="249.2" stroke="#42a19d" stroke-width="1"/>
<line x1="246" y1="142.2" x2="287" y2="142.2" stroke="#42a19d" stroke-width="1"/>
<line x1="212.7" y1="127.2" x2="250" y2="127.2" stroke="#42a19d" stroke-width="1"/>
<line x1="204" y1="129.8" x2="262" y2="129.8" stroke="#42a19d" stroke-width="1"/>
<line x1="230" y1="216.3" x2="270" y2="216.3" stroke="#6a4c93" stroke-width="1"/>
<line x1="210" y1="217.6" x2="278" y2="217.6" stroke="#440154" stroke-width="1.9"/>
<line x1="222" y1="219.8" x2="287" y2="219.8" stroke="#a095bd" stroke-width="1.2"/>
<line x1="236" y1="215.2" x2="282" y2="215.2" stroke="#bdb4d0" stroke-width="0.8"/>
<text x="290.7" y="221.35" font-size="8.2" fill="#4b3a7a" text-anchor="start" textLength="30.1" lengthAdjust="spacingAndGlyphs" font-weight="bold">CAL.20C</text>
<circle cx="295.9" cy="47.1" r="2.3" fill="#21908C"/>
<circle cx="337.9" cy="53.2" r="2.3" fill="#FDE725"/>
<circle cx="351" cy="52.4" r="2.3" fill="#21908C"/>
<circle cx="303.6" cy="55.3" r="2.3" fill="#FDE725"/>
<circle cx="318.3" cy="57.3" r="2.3" fill="#FDE725"/>
<circle cx="329.2" cy="58.1" r="2.3" fill="#FDE725"/>
<circle cx="335.1" cy="61" r="2.3" fill="#FDE725"/>
<circle cx="322.4" cy="63" r="2.3" fill="#FDE725"/>
<circle cx="286.4" cy="66.3" r="2.3" fill="#FDE725"/>
<circle cx="303.6" cy="65.8" r="2.3" fill="#FDE725"/>
<circle cx="308" cy="66.3" r="2.3" fill="#21908C"/>
<circle cx="290.5" cy="73.3" r="2.3" fill="#21908C"/>
<circle cx="303.6" cy="73.3" r="2.3" fill="#FDE725"/>
<circle cx="320.7" cy="77.2" r="2.3" fill="#FDE725"/>
<circle cx="329.2" cy="75.6" r="2.3" fill="#FDE725"/>
<circle cx="290.5" cy="78.2" r="2.3" fill="#21908C"/>
<circle cx="312.5" cy="81" r="2.3" fill="#FDE725"/>
<circle cx="315.8" cy="80.2" r="2.3" fill="#FDE725"/>
<circle cx="293.7" cy="83.3" r="2.3" fill="#21908C"/>
<circle cx="302.4" cy="83.3" r="2.3" fill="#FDE725"/>
<circle cx="325.3" cy="84.6" r="2.3" fill="#21908C"/>
<circle cx="290.5" cy="87.4" r="2.3" fill="#FDE725"/>
<circle cx="294.9" cy="89.8" r="2.3" fill="#FDE725"/>
<circle cx="281.8" cy="92.3" r="2.3" fill="#FDE725"/>
<circle cx="308" cy="92.8" r="2.3" fill="#21908C"/>
<circle cx="299.1" cy="93.9" r="2.3" fill="#FDE725"/>
<circle cx="290.5" cy="96.4" r="2.3" fill="#21908C"/>
<circle cx="286.4" cy="97.2" r="2.3" fill="#FDE725"/>
<circle cx="282.8" cy="99.3" r="2.3" fill="#FDE725"/>
<circle cx="312.2" cy="100.5" r="2.3" fill="#21908C"/>
<circle cx="308.1" cy="104.2" r="2.3" fill="#FDE725"/>
<circle cx="292.1" cy="109.5" r="2.3" fill="#21908C"/>
<circle cx="303.6" cy="108.6" r="2.3" fill="#FDE725"/>
<circle cx="320.7" cy="111.9" r="2.3" fill="#FDE725"/>
<circle cx="294.9" cy="114" r="2.3" fill="#21908C"/>
<circle cx="313.9" cy="119" r="2.3" fill="#FDE725"/>
<circle cx="294.9" cy="122.2" r="2.3" fill="#FDE725"/>
<circle cx="277.4" cy="124" r="2.3" fill="#FDE725"/>
<circle cx="286.1" cy="125.8" r="2.3" fill="#FDE725"/>
<circle cx="173.9" cy="128.6" r="2.3" fill="#21908C"/>
<circle cx="187" cy="127" r="2.3" fill="#FDE725"/>
<circle cx="200.1" cy="128.6" r="2.3" fill="#21908C"/>
<circle cx="200.1" cy="131.1" r="2.3" fill="#FDE725"/>
<circle cx="204.2" cy="129.5" r="2.3" fill="#21908C"/>
<circle cx="208.6" cy="129.5" r="2.3" fill="#21908C"/>
<circle cx="212.7" cy="127" r="2.3" fill="#21908C"/>
<circle cx="247.5" cy="133.9" r="2.3" fill="#21908C"/>
<circle cx="195.7" cy="135.7" r="2.3" fill="#FDE725"/>
<circle cx="182.9" cy="140.1" r="2.3" fill="#21908C"/>
<circle cx="200.1" cy="139.6" r="2.3" fill="#21908C"/>
<circle cx="204.2" cy="138.5" r="2.3" fill="#FDE725"/>
<circle cx="217.3" cy="139.3" r="2.3" fill="#21908C"/>
<circle cx="221.4" cy="136.8" r="2.3" fill="#21908C"/>
<circle cx="234.5" cy="138.5" r="2.3" fill="#21908C"/>
<circle cx="189.5" cy="143.4" r="2.3" fill="#21908C"/>
<circle cx="223.8" cy="143.4" r="2.3" fill="#21908C"/>
<circle cx="245.4" cy="142" r="2.3" fill="#21908C"/>
<circle cx="178.3" cy="147.1" r="2.3" fill="#21908C"/>
<circle cx="226.3" cy="147.1" r="2.3" fill="#21908C"/>
<circle cx="212.7" cy="152" r="2.3" fill="#21908C"/>
<circle cx="217.1" cy="152" r="2.3" fill="#FDE725"/>
<circle cx="169.8" cy="158.6" r="2.3" fill="#21908C"/>
<circle cx="204.2" cy="157.3" r="2.3" fill="#21908C"/>
<circle cx="204.2" cy="162.2" r="2.3" fill="#21908C"/>
<circle cx="315" cy="130.3" r="2.3" fill="#21908C"/>
<circle cx="251.5" cy="135.7" r="2.3" fill="#21908C"/>
<circle cx="282.2" cy="135.2" r="2.3" fill="#FDE725"/>
<circle cx="254.4" cy="142.2" r="2.3" fill="#FDE725"/>
<circle cx="258.8" cy="141.7" r="2.3" fill="#21908C"/>
<circle cx="191.6" cy="174.2" r="2.3" fill="#FDE725"/>
<circle cx="195.6" cy="177" r="2.3" fill="#FDE725"/>
<circle cx="204.6" cy="178.6" r="2.3" fill="#21908C"/>
<circle cx="213.2" cy="173.7" r="2.3" fill="#21908C"/>
<circle cx="213.2" cy="176.5" r="2.3" fill="#FDE725"/>
<circle cx="216.9" cy="178.2" r="2.3" fill="#FDE725"/>
<circle cx="221.7" cy="179.5" r="2.3" fill="#FDE725"/>
<circle cx="187.1" cy="183.1" r="2.3" fill="#21908C"/>
<circle cx="221.8" cy="184.7" r="2.3" fill="#FDE725"/>
<circle cx="226" cy="188.5" r="2.3" fill="#21908C"/>
<circle cx="221.8" cy="188.5" r="2.3" fill="#FDE725"/>
<circle cx="213.4" cy="190" r="2.3" fill="#440154"/>
<circle cx="209.6" cy="192.9" r="2.3" fill="#440154"/>
<circle cx="204.4" cy="193.4" r="2.3" fill="#FDE725"/>
<circle cx="221.7" cy="192.7" r="2.3" fill="#440154"/>
<circle cx="226.6" cy="192.1" r="2.3" fill="#FDE725"/>
<circle cx="238.8" cy="172.1" r="2.3" fill="#FDE725"/>
<circle cx="230.1" cy="178.6" r="2.3" fill="#FDE725"/>
<circle cx="230.1" cy="184" r="2.3" fill="#21908C"/>
<circle cx="251.9" cy="183.6" r="2.3" fill="#21908C"/>
<circle cx="234.7" cy="190.1" r="2.3" fill="#FDE725"/>
<circle cx="247.8" cy="189" r="2.3" fill="#21908C"/>
<circle cx="251.9" cy="192.2" r="2.3" fill="#FDE725"/>
<circle cx="239.3" cy="193.9" r="2.3" fill="#21908C"/>
<circle cx="195.6" cy="199.5" r="2.3" fill="#21908C"/>
<circle cx="200.6" cy="201.5" r="2.3" fill="#440154"/>
<circle cx="204.6" cy="201.5" r="2.3" fill="#FDE725"/>
<circle cx="195.6" cy="203.1" r="2.3" fill="#21908C"/>
<circle cx="213.3" cy="200.1" r="2.3" fill="#21908C"/>
<circle cx="226.2" cy="198.6" r="2.3" fill="#FDE725"/>
<circle cx="226.2" cy="200.8" r="2.3" fill="#FDE725"/>
<circle cx="221.7" cy="203.4" r="2.3" fill="#21908C"/>
<circle cx="230.6" cy="201.5" r="2.3" fill="#21908C"/>
<circle cx="234.7" cy="199.8" r="2.3" fill="#FDE725"/>
<circle cx="169.5" cy="204.7" r="2.3" fill="#440154"/>
<circle cx="174" cy="202.8" r="2.3" fill="#440154"/>
<circle cx="174.4" cy="205.5" r="2.3" fill="#21908C"/>
<circle cx="165.4" cy="205.5" r="2.3" fill="#FDE725"/>
<circle cx="182.9" cy="205.5" r="2.3" fill="#21908C"/>
<circle cx="204.3" cy="205.2" r="2.3" fill="#21908C"/>
<circle cx="178.5" cy="210" r="2.3" fill="#FDE725"/>
<circle cx="182.9" cy="210" r="2.3" fill="#FDE725"/>
<circle cx="251.9" cy="207.2" r="2.3" fill="#21908C"/>
<circle cx="277.3" cy="208.3" r="2.3" fill="#21908C"/>
<circle cx="231.5" cy="212.1" r="2.3" fill="#FDE725"/>
<circle cx="244.2" cy="212.6" r="2.3" fill="#21908C"/>
<circle cx="256" cy="212.1" r="2.3" fill="#21908C"/>
<circle cx="165.4" cy="214.2" r="2.3" fill="#440154"/>
<circle cx="217.3" cy="214.9" r="2.3" fill="#21908C"/>
<circle cx="242.9" cy="215.9" r="2.3" fill="#FDE725"/>
<circle cx="165.4" cy="219.8" r="2.3" fill="#440154"/>
<circle cx="169.8" cy="219.8" r="2.3" fill="#440154"/>
<circle cx="195.6" cy="219.8" r="2.3" fill="#440154"/>
<circle cx="200.2" cy="218.2" r="2.3" fill="#440154"/>
<circle cx="210" cy="219.8" r="2.3" fill="#440154"/>
<circle cx="200.6" cy="221.9" r="2.3" fill="#FDE725"/>
<circle cx="204.3" cy="223.6" r="2.3" fill="#21908C"/>
<circle cx="208.7" cy="223.6" r="2.3" fill="#21908C"/>
<circle cx="212.8" cy="224.7" r="2.3" fill="#FDE725"/>
<circle cx="165.4" cy="225.9" r="2.3" fill="#21908C"/>
<circle cx="182.8" cy="225.6" r="2.3" fill="#FDE725"/>
<circle cx="238.8" cy="224.4" r="2.3" fill="#FDE725"/>
<circle cx="247.5" cy="224.4" r="2.3" fill="#FDE725"/>
<circle cx="204.3" cy="227.3" r="2.3" fill="#FDE725"/>
<circle cx="156.7" cy="229.3" r="2.3" fill="#FDE725"/>
<circle cx="204.6" cy="233.4" r="2.3" fill="#FDE725"/>
<circle cx="208.7" cy="234.6" r="2.3" fill="#440154"/>
<circle cx="169.5" cy="237.1" r="2.3" fill="#21908C"/>
<circle cx="174" cy="237.1" r="2.3" fill="#21908C"/>
<circle cx="174" cy="239.1" r="2.3" fill="#FDE725"/>
<circle cx="169.8" cy="239.4" r="2.3" fill="#440154"/>
<circle cx="195.6" cy="237.8" r="2.3" fill="#FDE725"/>
<circle cx="208.7" cy="238.3" r="2.3" fill="#FDE725"/>
<circle cx="156.7" cy="240.4" r="2.3" fill="#21908C"/>
<circle cx="161.3" cy="240.4" r="2.3" fill="#440154"/>
<circle cx="227.2" cy="240.4" r="2.3" fill="#440154"/>
<circle cx="226" cy="243.7" r="2.3" fill="#21908C"/>
<circle cx="229.6" cy="237.5" r="2.3" fill="#21908C"/>
<circle cx="161" cy="244.3" r="2.3" fill="#440154"/>
<circle cx="143.6" cy="251.4" r="2.3" fill="#FDE725"/>
<circle cx="147.9" cy="251.9" r="2.3" fill="#21908C"/>
<circle cx="231.5" cy="240.7" r="2.3" fill="#440154"/>
<circle cx="248.2" cy="241.1" r="2.3" fill="#FDE725"/>
<circle cx="234.7" cy="246.5" r="2.3" fill="#FDE725"/>
<circle cx="243.2" cy="246" r="2.3" fill="#21908C"/>
<circle cx="268.8" cy="246" r="2.3" fill="#FDE725"/>
<circle cx="256" cy="249.2" r="2.3" fill="#21908C"/>
<line x1="258" y1="262.8" x2="272" y2="262.8" stroke="#444" stroke-width="0.8"/>
<line x1="258" y1="261.2" x2="258" y2="264.4" stroke="#444" stroke-width="0.8"/>
<line x1="272" y1="261.2" x2="272" y2="264.4" stroke="#444" stroke-width="0.8"/>
<text x="235.5" y="273.3" font-size="8.4" fill="#262626" stroke="#262626" stroke-width="0.22" dominant-baseline="central" textLength="61.8" lengthAdjust="spacingAndGlyphs">10<tspan font-size="5" dy="-2.2">-4</tspan><tspan dy="2.2"> mutations/bp</tspan></text>
<text x="356.4" y="12.28" font-size="13" fill="#111" text-anchor="start" stroke="#111" stroke-width="0.12" textLength="8.4" lengthAdjust="spacingAndGlyphs">D</text>
<line x1="395.4" y1="13.8" x2="395.4" y2="118.2" stroke="#8c8c8c" stroke-width="1"/>
<line x1="394.9" y1="117.9" x2="537.6" y2="117.9" stroke="#8c8c8c" stroke-width="1"/>
<line x1="393.8" y1="113.2" x2="395.4" y2="113.2" stroke="#3a3a3a" stroke-width="0.6"/>
<text x="393.6" y="115.65" font-size="6.8" fill="#3a3a3a" text-anchor="end" stroke="#3a3a3a" stroke-width="0.15" textLength="3.1" lengthAdjust="spacingAndGlyphs">0</text>
<line x1="393.8" y1="87.25" x2="395.4" y2="87.25" stroke="#3a3a3a" stroke-width="0.6"/>
<text x="393.6" y="89.7" font-size="6.8" fill="#3a3a3a" text-anchor="end" stroke="#3a3a3a" stroke-width="0.15" textLength="13.4" lengthAdjust="spacingAndGlyphs">2000</text>
<line x1="393.8" y1="61.3" x2="395.4" y2="61.3" stroke="#3a3a3a" stroke-width="0.6"/>
<text x="393.6" y="63.75" font-size="6.8" fill="#3a3a3a" text-anchor="end" stroke="#3a3a3a" stroke-width="0.15" textLength="13.4" lengthAdjust="spacingAndGlyphs">4000</text>
<line x1="393.8" y1="35.35" x2="395.4" y2="35.35" stroke="#3a3a3a" stroke-width="0.6"/>
<text x="393.6" y="37.8" font-size="6.8" fill="#3a3a3a" text-anchor="end" stroke="#3a3a3a" stroke-width="0.15" textLength="13.4" lengthAdjust="spacingAndGlyphs">6000</text>
<line x1="407.7" y1="117.9" x2="407.7" y2="119.5" stroke="#3a3a3a" stroke-width="0.6"/>
<text x="407.7" y="124.95" font-size="6.8" fill="#3a3a3a" text-anchor="middle" stroke="#3a3a3a" stroke-width="0.15" textLength="5.7" lengthAdjust="spacingAndGlyphs">25</text>
<line x1="420.15" y1="117.9" x2="420.15" y2="119.5" stroke="#3a3a3a" stroke-width="0.6"/>
<text x="420.15" y="124.95" font-size="6.8" fill="#3a3a3a" text-anchor="middle" stroke="#3a3a3a" stroke-width="0.15" textLength="5.7" lengthAdjust="spacingAndGlyphs">30</text>
<line x1="432.6" y1="117.9" x2="432.6" y2="119.5" stroke="#3a3a3a" stroke-width="0.6"/>
<text x="432.6" y="124.95" font-size="6.8" fill="#3a3a3a" text-anchor="middle" stroke="#3a3a3a" stroke-width="0.15" textLength="5.7" lengthAdjust="spacingAndGlyphs">35</text>
<line x1="445.05" y1="117.9" x2="445.05" y2="119.5" stroke="#3a3a3a" stroke-width="0.6"/>
<text x="445.05" y="124.95" font-size="6.8" fill="#3a3a3a" text-anchor="middle" stroke="#3a3a3a" stroke-width="0.15" textLength="5.7" lengthAdjust="spacingAndGlyphs">40</text>
<line x1="457.5" y1="117.9" x2="457.5" y2="119.5" stroke="#3a3a3a" stroke-width="0.6"/>
<text x="457.5" y="124.95" font-size="6.8" fill="#3a3a3a" text-anchor="middle" stroke="#3a3a3a" stroke-width="0.15" textLength="5.7" lengthAdjust="spacingAndGlyphs">45</text>
<line x1="469.95" y1="117.9" x2="469.95" y2="119.5" stroke="#3a3a3a" stroke-width="0.6"/>
<text x="469.95" y="124.95" font-size="6.8" fill="#3a3a3a" text-anchor="middle" stroke="#3a3a3a" stroke-width="0.15" textLength="5.7" lengthAdjust="spacingAndGlyphs">50</text>
<line x1="482.4" y1="117.9" x2="482.4" y2="119.5" stroke="#3a3a3a" stroke-width="0.6"/>
<text x="482.4" y="124.95" font-size="6.8" fill="#3a3a3a" text-anchor="middle" stroke="#3a3a3a" stroke-width="0.15" textLength="5.7" lengthAdjust="spacingAndGlyphs">55</text>
<line x1="494.85" y1="117.9" x2="494.85" y2="119.5" stroke="#3a3a3a" stroke-width="0.6"/>
<text x="494.85" y="124.95" font-size="6.8" fill="#3a3a3a" text-anchor="middle" stroke="#3a3a3a" stroke-width="0.15" textLength="5.7" lengthAdjust="spacingAndGlyphs">60</text>
<line x1="507.3" y1="117.9" x2="507.3" y2="119.5" stroke="#3a3a3a" stroke-width="0.6"/>
<text x="507.3" y="124.95" font-size="6.8" fill="#3a3a3a" text-anchor="middle" stroke="#3a3a3a" stroke-width="0.15" textLength="5.7" lengthAdjust="spacingAndGlyphs">65</text>
<line x1="519.75" y1="117.9" x2="519.75" y2="119.5" stroke="#3a3a3a" stroke-width="0.6"/>
<text x="519.75" y="124.95" font-size="6.8" fill="#3a3a3a" text-anchor="middle" stroke="#3a3a3a" stroke-width="0.15" textLength="5.7" lengthAdjust="spacingAndGlyphs">70</text>
<line x1="532.2" y1="117.9" x2="532.2" y2="119.5" stroke="#3a3a3a" stroke-width="0.6"/>
<text x="532.2" y="124.95" font-size="6.8" fill="#3a3a3a" text-anchor="middle" stroke="#3a3a3a" stroke-width="0.15" textLength="5.7" lengthAdjust="spacingAndGlyphs">75</text>
<text x="469.8" y="133.57" font-size="8.8" fill="#262626" text-anchor="middle" stroke="#262626" stroke-width="0.1" textLength="71.6" lengthAdjust="spacingAndGlyphs">week since Dec 2019</text>
<text x="373.3" y="71.14" font-size="7.6" fill="#262626" text-anchor="middle" stroke="#262626" stroke-width="0.1" textLength="109.8" lengthAdjust="spacingAndGlyphs" transform="rotate(-90 373.3 68.4)">sequences submitted to GISAID</text>
<polygon points="402.4,64.9 440.6,64.6 443.1,59.4 445,54.3 446.3,46.6 447.6,40.9 448.9,38.3 450.8,36.4 452.3,35.1 454,36.4 455.9,40.2 458.4,44.7 461.6,47.9 464.8,51.1 468,53.6 471,54.3 475,56.2 479,57.6 480.5,58.5 482,55.5 484.5,54 489,52.6 494,52.2 501.1,48.7 508.2,43.7 513.9,41.6 516.7,37.3 518.1,39.5 522.4,34.5 524.5,30.3 526.6,32.4 528.8,30.3 531.2,31 532,31 532,99.5 531.6,99.5 528,100.2 525.9,98 523.8,98.8 521,91.7 518.1,93.8 515.3,87.4 508.2,82.4 501.1,80.3 494,78.2 489.8,79.1 484.4,76.4 482.3,75 480.4,72.4 476.4,76.4 471,78.6 468,79.3 464.8,81.9 461.6,84.4 458.4,87 455.9,90.8 454,94 452,95.9 449.5,92.1 447.6,87.6 446.3,79.3 445,74.2 443.1,70.4 440.6,66.5 402.4,66.7" fill="#787b7e"/>
<defs><linearGradient id="gl" x1="0" x2="1" y1="0" y2="0"><stop offset="0" stop-color="#d8dcd8"/><stop offset="0.25" stop-color="#4f7f7c"/><stop offset="0.6" stop-color="#7a9997"/><stop offset="1" stop-color="#6a7f7e"/></linearGradient></defs>
<rect x="402.4" y="64.9" width="39" height="1.8" fill="url(#gl)"/>
<polyline points="445,65.3 447.5,65.28 450,65.26 452.5,65.24 455,65.22 457.5,65.2 460,65.18 462.5,65.16 465,65.14 467.5,65.12 470,65.1 472.5,65.04 475,64.97 477.5,64.91 480,64.85 482.5,64.79 485,64.72 487.5,64.66 490,64.6" fill="none" stroke="#b8b25a" stroke-width="0.6" stroke-linejoin="round" stroke-linecap="round" opacity="0.8"/>
<polyline points="445,66.3 447.5,66.32 450,66.34 452.5,66.36 455,66.38 457.5,66.4 460,66.42 462.5,66.44 465,66.46 467.5,66.48 470,66.5 472.5,66.46 475,66.42 477.5,66.39 480,66.35 482.5,66.31 485,66.28 487.5,66.24 490,66.2" fill="none" stroke="#5f9a95" stroke-width="0.6" stroke-linejoin="round" stroke-linecap="round" opacity="0.8"/>
<polyline points="492,63.2 494.62,62.45 497.25,61.65 499.88,60.77 502.5,59.69 505.35,59.61 508.2,57.31 511.75,57.3 515.3,57.16 518.85,55.81 522.4,56.28 525.6,56.26 528.8,55.36 532,55.9" fill="none" stroke="#9a93b5" stroke-width="1.4" stroke-linejoin="round" stroke-linecap="round" opacity="1"/>
<polyline points="494,62.2 496.83,61.06 499.67,60.55 502.5,59.23 505.35,58.12 508.2,55.82 511.75,55.53 515.3,54.96 518.85,55.36 522.4,55.79 525.6,55.26 528.8,55.45 532,55" fill="none" stroke="#c9c049" stroke-width="0.7" stroke-linejoin="round" stroke-linecap="round" opacity="1"/>
<polygon points="504,57 508.2,54.6 515.3,53.2 522.4,51.7 526.6,53 532,51.6 532,55.4 526.6,56.6 522.4,54.8 515.3,55.4 508.2,56.2" fill="#21908C"/>
<polyline points="506,53.84 509,53.34 512,51.44 515,50.91 518,50.64 521,50.32 524,49.49 526.67,48.99 529.33,49.21 532,49.5" fill="none" stroke="#c9c049" stroke-width="0.7" stroke-linejoin="round" stroke-linecap="round" opacity="1"/>
<polyline points="507,52.59 509.7,50.89 512.4,49.83 515.3,47.58 519.5,45.64 522.4,42.13 524.5,36.68 525.9,35.03 528.8,33.79 532,33.1" fill="none" stroke="#FDE725" stroke-width="1.1" stroke-linejoin="round" stroke-linecap="round" opacity="0.95"/>
<polyline points="515,43.33 517.5,41.89 520,40.57 522.4,36.76 524.5,33.64 527,33.47 529,32.41 532,32.5" fill="none" stroke="#d9d04a" stroke-width="0.7" stroke-linejoin="round" stroke-linecap="round" opacity="1"/>
<polyline points="500,58.05 502.67,54.75 505.33,52.14 508,49.92 511,48.56 514,45.82 516.5,43.92 519,42.5" fill="none" stroke="#8fa0a0" stroke-width="0.6" stroke-linejoin="round" stroke-linecap="round" opacity="0.8"/>
<polyline points="492,66.8 494.62,67.3 497.25,67.8 499.88,68.89 502.5,68.69 505.35,70.06 508.2,71.79 511.75,72.43 515.3,74.51 518.85,74.64 522.4,75.95 525.6,76.44 528.8,75.18 532,75.8" fill="none" stroke="#6aa7a0" stroke-width="1.3" stroke-linejoin="round" stroke-linecap="round" opacity="1"/>
<polyline points="494,68.3 496.83,69.78 499.67,71.25 502.5,72.01 506.05,72.88 509.6,74.59 513.9,80.3 516.7,82.27 519.5,86.29 522.4,89.43 526.6,96.23 529.5,97.46 532,95.9" fill="none" stroke="#FDE725" stroke-width="1" stroke-linejoin="round" stroke-linecap="round" opacity="0.9"/>
<polygon points="504,71.5 508.2,73.6 515.3,76 522.4,78 532,77.4 532,79.6 522.4,80.2 515.3,78.2 508.2,75.4" fill="#21908C"/>
<polyline points="506,75.36 509.1,77.95 512.2,80.51 515.3,82.53 518.85,84.93 522.4,86.12 525.6,86.95 528.8,88.14 532,88.1" fill="none" stroke="#3f9c94" stroke-width="1" stroke-linejoin="round" stroke-linecap="round" opacity="1"/>
<polyline points="500,73.12 502.5,74.43 505,75.86 507.5,78.18 510,79.1 513.5,80.83 517,84.42 520,87.01 523,90.41 527,93.6 529.5,93.42 532,93" fill="none" stroke="#c9c049" stroke-width="0.6" stroke-linejoin="round" stroke-linecap="round" opacity="1"/>
<polygon points="497,65.5 500,64.2 502.5,62.3 505,60.6 508.2,59.5 511,58 515.3,57.4 518,56.2 522.4,56.8 526,55.6 532,55.8 532,76.2 526,76.6 522.4,75.2 518,75.6 515.3,74.3 511,72.8 508.2,71.2 505,70.2 502.5,68.4 500,67 497,65.9" fill="#440154"/>
<text x="504.2" y="69.06" font-size="7.4" fill="#e6e0f0" text-anchor="start" textLength="26.6" lengthAdjust="spacingAndGlyphs" font-weight="bold">CAL.20C</text>
<line x1="408.6" y1="82.1" x2="408.6" y2="88.5" stroke="#6a4f96" stroke-width="0.9"/>
<text x="416.5" y="88" font-size="7.5" fill="#262626" text-anchor="start" stroke="#262626" stroke-width="0.1" textLength="23" lengthAdjust="spacingAndGlyphs">W152C</text>
<line x1="408.6" y1="90.6" x2="408.6" y2="97" stroke="#4aa6a0" stroke-width="0.9"/>
<text x="416.5" y="96.5" font-size="7.5" fill="#262626" text-anchor="start" stroke="#262626" stroke-width="0.1" textLength="23" lengthAdjust="spacingAndGlyphs">W152L</text>
<line x1="408.6" y1="99.1" x2="408.6" y2="105.5" stroke="#f2e23a" stroke-width="0.9"/>
<text x="416.5" y="105" font-size="7.5" fill="#262626" text-anchor="start" stroke="#262626" stroke-width="0.1" textLength="23" lengthAdjust="spacingAndGlyphs">W152R</text>
<text x="358.8" y="155.28" font-size="13" fill="#111" text-anchor="start" stroke="#111" stroke-width="0.12" textLength="6.8" lengthAdjust="spacingAndGlyphs">E</text>
<rect x="425.06" y="258.78" width="1.41" height="4.62" fill="#e5e5e5"/>
<rect x="426.46" y="258.78" width="1.41" height="4.62" fill="#e5e5e5"/>
<rect x="427.87" y="258.78" width="1.41" height="4.62" fill="#e5e5e5"/>
<rect x="429.28" y="257.5" width="1.41" height="5.9" fill="#e5e5e5"/>
<rect x="430.69" y="257.5" width="1.41" height="5.9" fill="#e5e5e5"/>
<rect x="432.1" y="257.5" width="1.41" height="5.9" fill="#e5e5e5"/>
<rect x="433.5" y="257.5" width="1.41" height="5.9" fill="#e5e5e5"/>
<rect x="434.91" y="257.5" width="1.41" height="5.9" fill="#e5e5e5"/>
<rect x="436.32" y="257.5" width="1.41" height="5.9" fill="#e5e5e5"/>
<rect x="437.73" y="257.5" width="1.41" height="5.9" fill="#e5e5e5"/>
<rect x="439.14" y="254.95" width="1.41" height="8.45" fill="#e5e5e5"/>
<rect x="440.54" y="254.95" width="1.41" height="8.45" fill="#e5e5e5"/>
<rect x="441.95" y="254.95" width="1.41" height="8.45" fill="#e5e5e5"/>
<rect x="443.36" y="254.95" width="1.41" height="8.45" fill="#e5e5e5"/>
<rect x="444.77" y="254.95" width="1.41" height="8.45" fill="#e5e5e5"/>
<rect x="446.18" y="254.95" width="1.41" height="8.45" fill="#e5e5e5"/>
<rect x="447.58" y="254.95" width="1.41" height="8.45" fill="#e5e5e5"/>
<rect x="448.99" y="254.95" width="1.41" height="8.45" fill="#e5e5e5"/>
<rect x="450.4" y="254.95" width="1.41" height="8.45" fill="#e5e5e5"/>
<rect x="451.81" y="254.95" width="1.41" height="8.45" fill="#e5e5e5"/>
<rect x="453.22" y="253.68" width="1.41" height="9.73" fill="#e5e5e5"/>
<rect x="454.62" y="253.68" width="1.41" height="9.73" fill="#e5e5e5"/>
<rect x="456.03" y="253.68" width="1.41" height="9.73" fill="#e5e5e5"/>
<rect x="457.44" y="253.68" width="1.41" height="9.73" fill="#e5e5e5"/>
<rect x="458.85" y="253.68" width="1.41" height="9.73" fill="#e5e5e5"/>
<rect x="460.26" y="253.68" width="1.41" height="9.73" fill="#e5e5e5"/>
<rect x="461.66" y="253.42" width="1.41" height="9.98" fill="#e5e5e5"/>
<rect x="463.07" y="253.42" width="1.41" height="9.98" fill="#e5e5e5"/>
<rect x="464.48" y="253.42" width="1.41" height="9.98" fill="#e5e5e5"/>
<rect x="465.89" y="253.42" width="1.41" height="9.98" fill="#e5e5e5"/>
<rect x="467.3" y="250.87" width="1.41" height="12.53" fill="#e5e5e5"/>
<rect x="468.7" y="250.87" width="1.41" height="12.53" fill="#e5e5e5"/>
<rect x="470.11" y="250.87" width="1.41" height="12.53" fill="#e5e5e5"/>
<rect x="471.52" y="250.87" width="1.41" height="12.53" fill="#e5e5e5"/>
<rect x="472.93" y="245.26" width="1.41" height="18.14" fill="#e5e5e5"/>
<rect x="474.34" y="245.26" width="1.41" height="18.14" fill="#e5e5e5"/>
<rect x="475.74" y="245.26" width="1.41" height="18.14" fill="#e5e5e5"/>
<rect x="477.15" y="245.26" width="1.41" height="18.14" fill="#e5e5e5"/>
<rect x="478.56" y="241.69" width="1.41" height="21.71" fill="#e5e5e5"/>
<rect x="479.97" y="241.69" width="1.41" height="21.71" fill="#e5e5e5"/>
<rect x="481.38" y="241.69" width="1.41" height="21.71" fill="#e5e5e5"/>
<rect x="482.78" y="241.69" width="1.41" height="21.71" fill="#e5e5e5"/>
<rect x="484.19" y="225.12" width="1.41" height="38.28" fill="#e5e5e5"/>
<rect x="485.6" y="225.12" width="1.41" height="38.28" fill="#e5e5e5"/>
<rect x="488.42" y="210.33" width="1.41" height="53.08" fill="#e5e5e5"/>
<rect x="489.82" y="199.11" width="1.41" height="64.3" fill="#e5e5e5"/>
<rect x="491.23" y="196.05" width="1.41" height="67.36" fill="#e5e5e5"/>
<rect x="492.64" y="196.05" width="1.41" height="67.36" fill="#e5e5e5"/>
<rect x="494.05" y="200.13" width="1.41" height="63.27" fill="#e5e5e5"/>
<rect x="495.46" y="200.13" width="1.41" height="63.27" fill="#e5e5e5"/>
<rect x="496.86" y="200.13" width="1.41" height="63.27" fill="#e5e5e5"/>
<rect x="498.27" y="200.13" width="1.41" height="63.27" fill="#e5e5e5"/>
<rect x="499.68" y="203.44" width="1.41" height="59.96" fill="#e5e5e5"/>
<rect x="501.09" y="209.05" width="1.41" height="54.35" fill="#e5e5e5"/>
<rect x="502.5" y="211.86" width="1.41" height="51.55" fill="#e5e5e5"/>
<rect x="425.06" y="260.23" width="1.41" height="3.17" fill="#d5d5d5"/>
<rect x="426.46" y="260.23" width="1.41" height="3.17" fill="#d5d5d5"/>
<rect x="427.87" y="260.23" width="1.41" height="3.17" fill="#d5d5d5"/>
<rect x="429.28" y="259.44" width="1.41" height="3.96" fill="#d5d5d5"/>
<rect x="430.69" y="259.44" width="1.41" height="3.96" fill="#d5d5d5"/>
<rect x="432.1" y="259.44" width="1.41" height="3.96" fill="#d5d5d5"/>
<rect x="433.5" y="259.44" width="1.41" height="3.96" fill="#d5d5d5"/>
<rect x="434.91" y="259.44" width="1.41" height="3.96" fill="#d5d5d5"/>
<rect x="436.32" y="259.44" width="1.41" height="3.96" fill="#d5d5d5"/>
<rect x="437.73" y="259.44" width="1.41" height="3.96" fill="#d5d5d5"/>
<rect x="439.14" y="257.86" width="1.41" height="5.54" fill="#d5d5d5"/>
<rect x="440.54" y="257.86" width="1.41" height="5.54" fill="#d5d5d5"/>
<rect x="441.95" y="257.86" width="1.41" height="5.54" fill="#d5d5d5"/>
<rect x="443.36" y="257.86" width="1.41" height="5.54" fill="#d5d5d5"/>
<rect x="444.77" y="257.86" width="1.41" height="5.54" fill="#d5d5d5"/>
<rect x="446.18" y="257.86" width="1.41" height="5.54" fill="#d5d5d5"/>
<rect x="447.58" y="257.86" width="1.41" height="5.54" fill="#d5d5d5"/>
<rect x="448.99" y="257.86" width="1.41" height="5.54" fill="#d5d5d5"/>
<rect x="450.4" y="257.86" width="1.41" height="5.54" fill="#d5d5d5"/>
<rect x="451.81" y="257.86" width="1.41" height="5.54" fill="#d5d5d5"/>
<rect x="453.22" y="257.07" width="1.41" height="6.33" fill="#d5d5d5"/>
<rect x="454.62" y="257.07" width="1.41" height="6.33" fill="#d5d5d5"/>
<rect x="456.03" y="257.07" width="1.41" height="6.33" fill="#d5d5d5"/>
<rect x="457.44" y="257.07" width="1.41" height="6.33" fill="#d5d5d5"/>
<rect x="458.85" y="257.07" width="1.41" height="6.33" fill="#d5d5d5"/>
<rect x="460.26" y="257.07" width="1.41" height="6.33" fill="#d5d5d5"/>
<rect x="461.66" y="256.91" width="1.41" height="6.49" fill="#d5d5d5"/>
<rect x="463.07" y="256.91" width="1.41" height="6.49" fill="#d5d5d5"/>
<rect x="464.48" y="256.91" width="1.41" height="6.49" fill="#d5d5d5"/>
<rect x="465.89" y="256.91" width="1.41" height="6.49" fill="#d5d5d5"/>
<rect x="467.3" y="255.33" width="1.41" height="8.07" fill="#d5d5d5"/>
<rect x="468.7" y="255.33" width="1.41" height="8.07" fill="#d5d5d5"/>
<rect x="470.11" y="255.33" width="1.41" height="8.07" fill="#d5d5d5"/>
<rect x="471.52" y="255.33" width="1.41" height="8.07" fill="#d5d5d5"/>
<rect x="472.93" y="251.85" width="1.41" height="11.55" fill="#d5d5d5"/>
<rect x="474.34" y="251.85" width="1.41" height="11.55" fill="#d5d5d5"/>
<rect x="475.74" y="251.85" width="1.41" height="11.55" fill="#d5d5d5"/>
<rect x="477.15" y="251.85" width="1.41" height="11.55" fill="#d5d5d5"/>
<rect x="478.56" y="249.64" width="1.41" height="13.76" fill="#d5d5d5"/>
<rect x="479.97" y="249.64" width="1.41" height="13.76" fill="#d5d5d5"/>
<rect x="481.38" y="249.64" width="1.41" height="13.76" fill="#d5d5d5"/>
<rect x="482.78" y="249.64" width="1.41" height="13.76" fill="#d5d5d5"/>
<rect x="484.19" y="239.36" width="1.41" height="24.04" fill="#d5d5d5"/>
<rect x="485.6" y="239.36" width="1.41" height="24.04" fill="#d5d5d5"/>
<rect x="488.42" y="230.19" width="1.41" height="33.21" fill="#d5d5d5"/>
<rect x="489.82" y="223.23" width="1.41" height="40.17" fill="#d5d5d5"/>
<rect x="491.23" y="221.34" width="1.41" height="42.06" fill="#d5d5d5"/>
<rect x="492.64" y="221.34" width="1.41" height="42.06" fill="#d5d5d5"/>
<rect x="494.05" y="223.87" width="1.41" height="39.53" fill="#d5d5d5"/>
<rect x="495.46" y="223.87" width="1.41" height="39.53" fill="#d5d5d5"/>
<rect x="496.86" y="223.87" width="1.41" height="39.53" fill="#d5d5d5"/>
<rect x="498.27" y="223.87" width="1.41" height="39.53" fill="#d5d5d5"/>
<rect x="499.68" y="225.92" width="1.41" height="37.48" fill="#d5d5d5"/>
<rect x="501.09" y="229.4" width="1.41" height="34" fill="#d5d5d5"/>
<rect x="502.5" y="231.14" width="1.41" height="32.26" fill="#d5d5d5"/>
<rect x="425.06" y="260.99" width="1.41" height="2.41" fill="#c6c6c6"/>
<rect x="426.46" y="260.99" width="1.41" height="2.41" fill="#c6c6c6"/>
<rect x="427.87" y="260.99" width="1.41" height="2.41" fill="#c6c6c6"/>
<rect x="429.28" y="260.46" width="1.41" height="2.94" fill="#c6c6c6"/>
<rect x="430.69" y="260.46" width="1.41" height="2.94" fill="#c6c6c6"/>
<rect x="432.1" y="260.46" width="1.41" height="2.94" fill="#c6c6c6"/>
<rect x="433.5" y="260.46" width="1.41" height="2.94" fill="#c6c6c6"/>
<rect x="434.91" y="260.46" width="1.41" height="2.94" fill="#c6c6c6"/>
<rect x="436.32" y="260.46" width="1.41" height="2.94" fill="#c6c6c6"/>
<rect x="437.73" y="260.46" width="1.41" height="2.94" fill="#c6c6c6"/>
<rect x="439.14" y="259.39" width="1.41" height="4.01" fill="#c6c6c6"/>
<rect x="440.54" y="259.39" width="1.41" height="4.01" fill="#c6c6c6"/>
<rect x="441.95" y="259.39" width="1.41" height="4.01" fill="#c6c6c6"/>
<rect x="443.36" y="259.39" width="1.41" height="4.01" fill="#c6c6c6"/>
<rect x="444.77" y="259.39" width="1.41" height="4.01" fill="#c6c6c6"/>
<rect x="446.18" y="259.39" width="1.41" height="4.01" fill="#c6c6c6"/>
<rect x="447.58" y="259.39" width="1.41" height="4.01" fill="#c6c6c6"/>
<rect x="448.99" y="259.39" width="1.41" height="4.01" fill="#c6c6c6"/>
<rect x="450.4" y="259.39" width="1.41" height="4.01" fill="#c6c6c6"/>
<rect x="451.81" y="259.39" width="1.41" height="4.01" fill="#c6c6c6"/>
<rect x="453.22" y="258.85" width="1.41" height="4.55" fill="#c6c6c6"/>
<rect x="454.62" y="258.85" width="1.41" height="4.55" fill="#c6c6c6"/>
<rect x="456.03" y="258.85" width="1.41" height="4.55" fill="#c6c6c6"/>
<rect x="457.44" y="258.85" width="1.41" height="4.55" fill="#c6c6c6"/>
<rect x="458.85" y="258.85" width="1.41" height="4.55" fill="#c6c6c6"/>
<rect x="460.26" y="258.85" width="1.41" height="4.55" fill="#c6c6c6"/>
<rect x="461.66" y="258.74" width="1.41" height="4.66" fill="#c6c6c6"/>
<rect x="463.07" y="258.74" width="1.41" height="4.66" fill="#c6c6c6"/>
<rect x="464.48" y="258.74" width="1.41" height="4.66" fill="#c6c6c6"/>
<rect x="465.89" y="258.74" width="1.41" height="4.66" fill="#c6c6c6"/>
<rect x="467.3" y="257.67" width="1.41" height="5.73" fill="#c6c6c6"/>
<rect x="468.7" y="257.67" width="1.41" height="5.73" fill="#c6c6c6"/>
<rect x="470.11" y="257.67" width="1.41" height="5.73" fill="#c6c6c6"/>
<rect x="471.52" y="257.67" width="1.41" height="5.73" fill="#c6c6c6"/>
<rect x="472.93" y="255.32" width="1.41" height="8.08" fill="#c6c6c6"/>
<rect x="474.34" y="255.32" width="1.41" height="8.08" fill="#c6c6c6"/>
<rect x="475.74" y="255.32" width="1.41" height="8.08" fill="#c6c6c6"/>
<rect x="477.15" y="255.32" width="1.41" height="8.08" fill="#c6c6c6"/>
<rect x="478.56" y="253.82" width="1.41" height="9.58" fill="#c6c6c6"/>
<rect x="479.97" y="253.82" width="1.41" height="9.58" fill="#c6c6c6"/>
<rect x="481.38" y="253.82" width="1.41" height="9.58" fill="#c6c6c6"/>
<rect x="482.78" y="253.82" width="1.41" height="9.58" fill="#c6c6c6"/>
<rect x="484.19" y="246.86" width="1.41" height="16.54" fill="#c6c6c6"/>
<rect x="485.6" y="246.86" width="1.41" height="16.54" fill="#c6c6c6"/>
<rect x="488.42" y="240.64" width="1.41" height="22.76" fill="#c6c6c6"/>
<rect x="489.82" y="235.93" width="1.41" height="27.47" fill="#c6c6c6"/>
<rect x="491.23" y="234.65" width="1.41" height="28.75" fill="#c6c6c6"/>
<rect x="492.64" y="234.65" width="1.41" height="28.75" fill="#c6c6c6"/>
<rect x="494.05" y="236.36" width="1.41" height="27.04" fill="#c6c6c6"/>
<rect x="495.46" y="236.36" width="1.41" height="27.04" fill="#c6c6c6"/>
<rect x="496.86" y="236.36" width="1.41" height="27.04" fill="#c6c6c6"/>
<rect x="498.27" y="236.36" width="1.41" height="27.04" fill="#c6c6c6"/>
<rect x="499.68" y="237.75" width="1.41" height="25.65" fill="#c6c6c6"/>
<rect x="501.09" y="240.11" width="1.41" height="23.29" fill="#c6c6c6"/>
<rect x="502.5" y="241.29" width="1.41" height="22.11" fill="#c6c6c6"/>
<rect x="425.06" y="261.76" width="1.41" height="1.64" fill="#b8b8b8"/>
<rect x="426.46" y="261.76" width="1.41" height="1.64" fill="#b8b8b8"/>
<rect x="427.87" y="261.76" width="1.41" height="1.64" fill="#b8b8b8"/>
<rect x="429.28" y="261.48" width="1.41" height="1.92" fill="#b8b8b8"/>
<rect x="430.69" y="261.48" width="1.41" height="1.92" fill="#b8b8b8"/>
<rect x="432.1" y="261.48" width="1.41" height="1.92" fill="#b8b8b8"/>
<rect x="433.5" y="261.48" width="1.41" height="1.92" fill="#b8b8b8"/>
<rect x="434.91" y="261.48" width="1.41" height="1.92" fill="#b8b8b8"/>
<rect x="436.32" y="261.48" width="1.41" height="1.92" fill="#b8b8b8"/>
<rect x="437.73" y="261.48" width="1.41" height="1.92" fill="#b8b8b8"/>
<rect x="439.14" y="260.92" width="1.41" height="2.48" fill="#b8b8b8"/>
<rect x="440.54" y="260.92" width="1.41" height="2.48" fill="#b8b8b8"/>
<rect x="441.95" y="260.92" width="1.41" height="2.48" fill="#b8b8b8"/>
<rect x="443.36" y="260.92" width="1.41" height="2.48" fill="#b8b8b8"/>
<rect x="444.77" y="260.92" width="1.41" height="2.48" fill="#b8b8b8"/>
<rect x="446.18" y="260.92" width="1.41" height="2.48" fill="#b8b8b8"/>
<rect x="447.58" y="260.92" width="1.41" height="2.48" fill="#b8b8b8"/>
<rect x="448.99" y="260.92" width="1.41" height="2.48" fill="#b8b8b8"/>
<rect x="450.4" y="260.92" width="1.41" height="2.48" fill="#b8b8b8"/>
<rect x="451.81" y="260.92" width="1.41" height="2.48" fill="#b8b8b8"/>
<rect x="453.22" y="260.64" width="1.41" height="2.76" fill="#b8b8b8"/>
<rect x="454.62" y="260.64" width="1.41" height="2.76" fill="#b8b8b8"/>
<rect x="456.03" y="260.64" width="1.41" height="2.76" fill="#b8b8b8"/>
<rect x="457.44" y="260.64" width="1.41" height="2.76" fill="#b8b8b8"/>
<rect x="458.85" y="260.64" width="1.41" height="2.76" fill="#b8b8b8"/>
<rect x="460.26" y="260.64" width="1.41" height="2.76" fill="#b8b8b8"/>
<rect x="461.66" y="260.58" width="1.41" height="2.82" fill="#b8b8b8"/>
<rect x="463.07" y="260.58" width="1.41" height="2.82" fill="#b8b8b8"/>
<rect x="464.48" y="260.58" width="1.41" height="2.82" fill="#b8b8b8"/>
<rect x="465.89" y="260.58" width="1.41" height="2.82" fill="#b8b8b8"/>
<rect x="467.3" y="260.02" width="1.41" height="3.38" fill="#b8b8b8"/>
<rect x="468.7" y="260.02" width="1.41" height="3.38" fill="#b8b8b8"/>
<rect x="470.11" y="260.02" width="1.41" height="3.38" fill="#b8b8b8"/>
<rect x="471.52" y="260.02" width="1.41" height="3.38" fill="#b8b8b8"/>
<rect x="472.93" y="258.79" width="1.41" height="4.61" fill="#b8b8b8"/>
<rect x="474.34" y="258.79" width="1.41" height="4.61" fill="#b8b8b8"/>
<rect x="475.74" y="258.79" width="1.41" height="4.61" fill="#b8b8b8"/>
<rect x="477.15" y="258.79" width="1.41" height="4.61" fill="#b8b8b8"/>
<rect x="478.56" y="258" width="1.41" height="5.4" fill="#b8b8b8"/>
<rect x="479.97" y="258" width="1.41" height="5.4" fill="#b8b8b8"/>
<rect x="481.38" y="258" width="1.41" height="5.4" fill="#b8b8b8"/>
<rect x="482.78" y="258" width="1.41" height="5.4" fill="#b8b8b8"/>
<rect x="484.19" y="254.35" width="1.41" height="9.05" fill="#b8b8b8"/>
<rect x="485.6" y="254.35" width="1.41" height="9.05" fill="#b8b8b8"/>
<rect x="488.42" y="251.1" width="1.41" height="12.3" fill="#b8b8b8"/>
<rect x="489.82" y="248.63" width="1.41" height="14.77" fill="#b8b8b8"/>
<rect x="491.23" y="247.96" width="1.41" height="15.44" fill="#b8b8b8"/>
<rect x="492.64" y="247.96" width="1.41" height="15.44" fill="#b8b8b8"/>
<rect x="494.05" y="248.86" width="1.41" height="14.54" fill="#b8b8b8"/>
<rect x="495.46" y="248.86" width="1.41" height="14.54" fill="#b8b8b8"/>
<rect x="496.86" y="248.86" width="1.41" height="14.54" fill="#b8b8b8"/>
<rect x="498.27" y="248.86" width="1.41" height="14.54" fill="#b8b8b8"/>
<rect x="499.68" y="249.58" width="1.41" height="13.82" fill="#b8b8b8"/>
<rect x="501.09" y="250.82" width="1.41" height="12.58" fill="#b8b8b8"/>
<rect x="502.5" y="251.44" width="1.41" height="11.96" fill="#b8b8b8"/>
<line x1="395.4" y1="160.2" x2="395.4" y2="263.9" stroke="#666" stroke-width="0.9"/>
<line x1="395" y1="263.8" x2="505" y2="263.8" stroke="#666" stroke-width="0.9"/>
<line x1="393.9" y1="262.6" x2="395.4" y2="262.6" stroke="#3a3a3a" stroke-width="0.6"/>
<text x="393.4" y="264.69" font-size="5.8" fill="#3a3a3a" text-anchor="end" stroke="#3a3a3a" stroke-width="0.15" textLength="2.9" lengthAdjust="spacingAndGlyphs">0</text>
<line x1="393.9" y1="237.1" x2="395.4" y2="237.1" stroke="#3a3a3a" stroke-width="0.6"/>
<text x="393.4" y="239.19" font-size="5.8" fill="#3a3a3a" text-anchor="end" stroke="#3a3a3a" stroke-width="0.15" textLength="5.8" lengthAdjust="spacingAndGlyphs">10</text>
<line x1="393.9" y1="211.6" x2="395.4" y2="211.6" stroke="#3a3a3a" stroke-width="0.6"/>
<text x="393.4" y="213.69" font-size="5.8" fill="#3a3a3a" text-anchor="end" stroke="#3a3a3a" stroke-width="0.15" textLength="5.8" lengthAdjust="spacingAndGlyphs">20</text>
<line x1="393.9" y1="186.1" x2="395.4" y2="186.1" stroke="#3a3a3a" stroke-width="0.6"/>
<text x="393.4" y="188.19" font-size="5.8" fill="#3a3a3a" text-anchor="end" stroke="#3a3a3a" stroke-width="0.15" textLength="5.8" lengthAdjust="spacingAndGlyphs">30</text>
<line x1="393.9" y1="160.6" x2="395.4" y2="160.6" stroke="#3a3a3a" stroke-width="0.6"/>
<text x="393.4" y="162.69" font-size="5.8" fill="#3a3a3a" text-anchor="end" stroke="#3a3a3a" stroke-width="0.15" textLength="5.8" lengthAdjust="spacingAndGlyphs">40</text>
<line x1="397.6" y1="263.8" x2="397.6" y2="265.3" stroke="#3a3a3a" stroke-width="0.5"/>
<text x="397.6" y="272.05" font-size="6.8" fill="#3a3a3a" text-anchor="middle" stroke="#3a3a3a" stroke-width="0.15" textLength="2.8" lengthAdjust="spacingAndGlyphs">0</text>
<line x1="404.64" y1="263.8" x2="404.64" y2="265.3" stroke="#3a3a3a" stroke-width="0.5"/>
<text x="404.64" y="272.05" font-size="6.8" fill="#3a3a3a" text-anchor="middle" stroke="#3a3a3a" stroke-width="0.15" textLength="2.8" lengthAdjust="spacingAndGlyphs">5</text>
<line x1="411.68" y1="263.8" x2="411.68" y2="265.3" stroke="#3a3a3a" stroke-width="0.5"/>
<text x="411.68" y="272.05" font-size="6.8" fill="#3a3a3a" text-anchor="middle" stroke="#3a3a3a" stroke-width="0.15" textLength="5.6" lengthAdjust="spacingAndGlyphs">10</text>
<line x1="418.72" y1="263.8" x2="418.72" y2="265.3" stroke="#3a3a3a" stroke-width="0.5"/>
<text x="418.72" y="272.05" font-size="6.8" fill="#3a3a3a" text-anchor="middle" stroke="#3a3a3a" stroke-width="0.15" textLength="5.6" lengthAdjust="spacingAndGlyphs">15</text>
<line x1="425.76" y1="263.8" x2="425.76" y2="265.3" stroke="#3a3a3a" stroke-width="0.5"/>
<text x="425.76" y="272.05" font-size="6.8" fill="#3a3a3a" text-anchor="middle" stroke="#3a3a3a" stroke-width="0.15" textLength="5.6" lengthAdjust="spacingAndGlyphs">20</text>
<line x1="432.8" y1="263.8" x2="432.8" y2="265.3" stroke="#3a3a3a" stroke-width="0.5"/>
<text x="432.8" y="272.05" font-size="6.8" fill="#3a3a3a" text-anchor="middle" stroke="#3a3a3a" stroke-width="0.15" textLength="5.6" lengthAdjust="spacingAndGlyphs">25</text>
<line x1="439.84" y1="263.8" x2="439.84" y2="265.3" stroke="#3a3a3a" stroke-width="0.5"/>
<text x="439.84" y="272.05" font-size="6.8" fill="#3a3a3a" text-anchor="middle" stroke="#3a3a3a" stroke-width="0.15" textLength="5.6" lengthAdjust="spacingAndGlyphs">30</text>
<line x1="446.88" y1="263.8" x2="446.88" y2="265.3" stroke="#3a3a3a" stroke-width="0.5"/>
<text x="446.88" y="272.05" font-size="6.8" fill="#3a3a3a" text-anchor="middle" stroke="#3a3a3a" stroke-width="0.15" textLength="5.6" lengthAdjust="spacingAndGlyphs">35</text>
<line x1="453.92" y1="263.8" x2="453.92" y2="265.3" stroke="#3a3a3a" stroke-width="0.5"/>
<text x="453.92" y="272.05" font-size="6.8" fill="#3a3a3a" text-anchor="middle" stroke="#3a3a3a" stroke-width="0.15" textLength="5.6" lengthAdjust="spacingAndGlyphs">40</text>
<line x1="460.96" y1="263.8" x2="460.96" y2="265.3" stroke="#3a3a3a" stroke-width="0.5"/>
<text x="460.96" y="272.05" font-size="6.8" fill="#3a3a3a" text-anchor="middle" stroke="#3a3a3a" stroke-width="0.15" textLength="5.6" lengthAdjust="spacingAndGlyphs">45</text>
<line x1="468" y1="263.8" x2="468" y2="265.3" stroke="#3a3a3a" stroke-width="0.5"/>
<text x="468" y="272.05" font-size="6.8" fill="#3a3a3a" text-anchor="middle" stroke="#3a3a3a" stroke-width="0.15" textLength="5.6" lengthAdjust="spacingAndGlyphs">50</text>
<line x1="475.04" y1="263.8" x2="475.04" y2="265.3" stroke="#3a3a3a" stroke-width="0.5"/>
<text x="475.04" y="272.05" font-size="6.8" fill="#3a3a3a" text-anchor="middle" stroke="#3a3a3a" stroke-width="0.15" textLength="5.6" lengthAdjust="spacingAndGlyphs">55</text>
<line x1="482.08" y1="263.8" x2="482.08" y2="265.3" stroke="#3a3a3a" stroke-width="0.5"/>
<text x="482.08" y="272.05" font-size="6.8" fill="#3a3a3a" text-anchor="middle" stroke="#3a3a3a" stroke-width="0.15" textLength="5.6" lengthAdjust="spacingAndGlyphs">60</text>
<line x1="489.12" y1="263.8" x2="489.12" y2="265.3" stroke="#3a3a3a" stroke-width="0.5"/>
<text x="489.12" y="272.05" font-size="6.8" fill="#3a3a3a" text-anchor="middle" stroke="#3a3a3a" stroke-width="0.15" textLength="5.6" lengthAdjust="spacingAndGlyphs">65</text>
<line x1="496.16" y1="263.8" x2="496.16" y2="265.3" stroke="#3a3a3a" stroke-width="0.5"/>
<text x="496.16" y="272.05" font-size="6.8" fill="#3a3a3a" text-anchor="middle" stroke="#3a3a3a" stroke-width="0.15" textLength="5.6" lengthAdjust="spacingAndGlyphs">70</text>
<line x1="503.2" y1="263.8" x2="503.2" y2="265.3" stroke="#3a3a3a" stroke-width="0.5"/>
<text x="503.2" y="272.05" font-size="6.8" fill="#3a3a3a" text-anchor="middle" stroke="#3a3a3a" stroke-width="0.15" textLength="5.6" lengthAdjust="spacingAndGlyphs">75</text>
<text x="455" y="280.77" font-size="8.8" fill="#262626" text-anchor="middle" stroke="#262626" stroke-width="0.1" textLength="70" lengthAdjust="spacingAndGlyphs">week since Dec 2019</text>
<text x="371.8" y="211.34" font-size="7.9" fill="#262626" text-anchor="middle" stroke="#262626" stroke-width="0.1" textLength="89.6" lengthAdjust="spacingAndGlyphs" transform="rotate(-90 371.8 208.5)">independent recruitments</text>
<text x="379.6" y="208.84" font-size="7.9" fill="#262626" text-anchor="middle" stroke="#262626" stroke-width="0.1" textLength="35" lengthAdjust="spacingAndGlyphs" transform="rotate(-90 379.6 206)">per week</text>
<rect x="397" y="261.5" width="90.01" height="2.2" fill="#2e2e2e"/>
<circle cx="425.76" cy="262.6" r="0.8" fill="#f6a86a"/>
<circle cx="428.58" cy="262.6" r="0.8" fill="#f6a86a"/>
<circle cx="429.98" cy="262.6" r="0.8" fill="#f6a86a"/>
<circle cx="431.39" cy="262.6" r="0.8" fill="#7fbf3f"/>
<circle cx="435.62" cy="262.6" r="0.8" fill="#7fbf3f"/>
<circle cx="437.02" cy="262.6" r="0.8" fill="#f47a3c"/>
<circle cx="439.84" cy="262.6" r="0.8" fill="#f6a86a"/>
<circle cx="445.47" cy="262.6" r="0.8" fill="#7fbf3f"/>
<circle cx="446.88" cy="262.6" r="0.8" fill="#7fbf3f"/>
<circle cx="448.29" cy="262.6" r="0.8" fill="#7fbf3f"/>
<circle cx="451.1" cy="262.6" r="0.8" fill="#f47a3c"/>
<circle cx="452.51" cy="262.6" r="0.8" fill="#7fbf3f"/>
<circle cx="453.92" cy="262.6" r="0.8" fill="#7fbf3f"/>
<circle cx="455.33" cy="262.6" r="0.8" fill="#7fbf3f"/>
<circle cx="456.74" cy="262.6" r="0.8" fill="#7fbf3f"/>
<circle cx="459.55" cy="262.6" r="0.8" fill="#f6a86a"/>
<circle cx="460.96" cy="262.6" r="0.8" fill="#7fbf3f"/>
<circle cx="462.37" cy="262.6" r="0.8" fill="#f47a3c"/>
<circle cx="463.78" cy="262.6" r="0.8" fill="#7fbf3f"/>
<circle cx="466.59" cy="262.6" r="0.8" fill="#f6a86a"/>
<circle cx="468" cy="262.6" r="0.8" fill="#7fbf3f"/>
<circle cx="469.41" cy="262.6" r="0.8" fill="#f6a86a"/>
<circle cx="472.22" cy="262.6" r="0.8" fill="#f47a3c"/>
<circle cx="473.63" cy="262.6" r="0.8" fill="#f47a3c"/>
<circle cx="476.45" cy="262.6" r="0.8" fill="#f47a3c"/>
<circle cx="477.86" cy="262.6" r="0.8" fill="#7fbf3f"/>
<circle cx="480.67" cy="262.6" r="0.8" fill="#7fbf3f"/>
<circle cx="482.08" cy="262.6" r="0.8" fill="#f6a86a"/>
<circle cx="484.9" cy="262.6" r="0.8" fill="#f47a3c"/>
<circle cx="486.3" cy="262.6" r="0.8" fill="#f47a3c"/>
<circle cx="427.17" cy="259.85" r="1.05" fill="#2e2e2e"/>
<circle cx="427.17" cy="259.85" r="0.75" fill="#f6a86a"/>
<circle cx="428.58" cy="259.85" r="1.05" fill="#2e2e2e"/>
<circle cx="429.98" cy="259.85" r="1.05" fill="#2e2e2e"/>
<circle cx="431.39" cy="259.85" r="1.05" fill="#2e2e2e"/>
<circle cx="431.39" cy="259.85" r="0.75" fill="#f6a86a"/>
<circle cx="434.21" cy="259.85" r="1.05" fill="#2e2e2e"/>
<circle cx="435.62" cy="259.85" r="1.05" fill="#2e2e2e"/>
<circle cx="435.62" cy="259.85" r="0.75" fill="#f6a86a"/>
<circle cx="437.02" cy="259.85" r="1.05" fill="#2e2e2e"/>
<circle cx="439.84" cy="259.85" r="0.75" fill="#f6a86a"/>
<circle cx="439.84" cy="257.3" r="1.05" fill="#2e2e2e"/>
<circle cx="439.84" cy="257.3" r="0.75" fill="#f47a3c"/>
<circle cx="442.66" cy="259.85" r="0.75" fill="#f6a86a"/>
<circle cx="442.66" cy="259.85" r="0.75" fill="#f47a3c"/>
<circle cx="444.06" cy="259.85" r="0.75" fill="#f47a3c"/>
<circle cx="445.47" cy="259.85" r="0.75" fill="#f6a86a"/>
<circle cx="446.88" cy="259.85" r="1.05" fill="#2e2e2e"/>
<circle cx="446.88" cy="259.85" r="0.75" fill="#f6a86a"/>
<circle cx="446.88" cy="259.85" r="0.75" fill="#f47a3c"/>
<circle cx="449.7" cy="259.85" r="0.75" fill="#f6a86a"/>
<circle cx="451.1" cy="259.85" r="0.75" fill="#f47a3c"/>
<circle cx="453.92" cy="257.3" r="1.05" fill="#2e2e2e"/>
<circle cx="455.33" cy="257.3" r="1.05" fill="#2e2e2e"/>
<circle cx="455.33" cy="257.3" r="0.75" fill="#f6a86a"/>
<circle cx="456.74" cy="259.85" r="1.05" fill="#2e2e2e"/>
<circle cx="456.74" cy="259.85" r="0.75" fill="#f6a86a"/>
<circle cx="458.14" cy="257.3" r="1.05" fill="#2e2e2e"/>
<circle cx="458.14" cy="259.85" r="0.75" fill="#f47a3c"/>
<circle cx="458.14" cy="259.85" r="0.75" fill="#7fbf3f"/>
<circle cx="459.55" cy="257.3" r="1.05" fill="#2e2e2e"/>
<circle cx="459.55" cy="257.3" r="1.05" fill="#2e2e2e"/>
<circle cx="460.96" cy="257.3" r="1.05" fill="#2e2e2e"/>
<circle cx="462.37" cy="259.85" r="1.05" fill="#2e2e2e"/>
<circle cx="462.37" cy="259.85" r="1.05" fill="#2e2e2e"/>
<circle cx="463.78" cy="257.3" r="1.05" fill="#2e2e2e"/>
<circle cx="463.78" cy="259.85" r="1.05" fill="#2e2e2e"/>
<circle cx="463.78" cy="257.3" r="0.75" fill="#f6a86a"/>
<circle cx="463.78" cy="257.3" r="0.75" fill="#7fbf3f"/>
<circle cx="465.18" cy="257.3" r="1.05" fill="#2e2e2e"/>
<circle cx="466.59" cy="257.3" r="1.05" fill="#2e2e2e"/>
<circle cx="468" cy="259.85" r="1.05" fill="#2e2e2e"/>
<circle cx="468" cy="254.75" r="0.75" fill="#7fbf3f"/>
<circle cx="469.41" cy="259.85" r="1.05" fill="#2e2e2e"/>
<circle cx="469.41" cy="259.85" r="1.05" fill="#2e2e2e"/>
<circle cx="469.41" cy="257.3" r="0.75" fill="#f6a86a"/>
<circle cx="469.41" cy="259.85" r="0.75" fill="#f47a3c"/>
<circle cx="470.82" cy="257.3" r="1.05" fill="#2e2e2e"/>
<circle cx="470.82" cy="259.85" r="1.05" fill="#2e2e2e"/>
<circle cx="472.22" cy="259.85" r="1.05" fill="#2e2e2e"/>
<circle cx="472.22" cy="259.85" r="0.75" fill="#f6a86a"/>
<circle cx="473.63" cy="252.2" r="0.75" fill="#f47a3c"/>
<circle cx="475.04" cy="249.65" r="1.05" fill="#2e2e2e"/>
<circle cx="475.04" cy="249.65" r="0.75" fill="#7fbf3f"/>
<circle cx="476.45" cy="254.75" r="1.05" fill="#2e2e2e"/>
<circle cx="476.45" cy="259.85" r="1.05" fill="#2e2e2e"/>
<circle cx="477.86" cy="254.75" r="1.05" fill="#2e2e2e"/>
<circle cx="477.86" cy="254.75" r="1.05" fill="#2e2e2e"/>
<circle cx="477.86" cy="257.3" r="0.75" fill="#7fbf3f"/>
<circle cx="479.26" cy="254.75" r="1.05" fill="#2e2e2e"/>
<circle cx="479.26" cy="259.85" r="0.75" fill="#f6a86a"/>
<circle cx="480.67" cy="254.75" r="1.05" fill="#2e2e2e"/>
<circle cx="480.67" cy="249.65" r="0.75" fill="#7fbf3f"/>
<circle cx="482.08" cy="259.85" r="0.75" fill="#f47a3c"/>
<circle cx="482.08" cy="252.2" r="0.75" fill="#7fbf3f"/>
<circle cx="486.3" cy="252.2" r="1.05" fill="#2e2e2e"/>
<circle cx="489.12" cy="240.1" r="1.05" fill="#2e2e2e"/>
<circle cx="489.12" cy="237.77" r="0.75" fill="#f6a86a"/>
<circle cx="489.12" cy="246.1" r="0.75" fill="#f47a3c"/>
<circle cx="490.53" cy="234.1" r="1.05" fill="#2e2e2e"/>
<circle cx="490.53" cy="235.84" r="0.75" fill="#f6a86a"/>
<circle cx="490.53" cy="229.07" r="0.75" fill="#f47a3c"/>
<circle cx="491.94" cy="211.02" r="0.75" fill="#f6a86a"/>
<circle cx="493.34" cy="229.83" r="1.05" fill="#2e2e2e"/>
<circle cx="493.34" cy="203.59" r="0.75" fill="#f47a3c"/>
<circle cx="493.34" cy="249.59" r="0.75" fill="#7fbf3f"/>
<circle cx="494.75" cy="240.39" r="1.05" fill="#2e2e2e"/>
<circle cx="496.16" cy="245.9" r="1.05" fill="#2e2e2e"/>
<circle cx="496.16" cy="205.8" r="0.75" fill="#f6a86a"/>
<circle cx="496.16" cy="242.62" r="0.75" fill="#f47a3c"/>
<circle cx="497.57" cy="232.75" r="1.05" fill="#2e2e2e"/>
<circle cx="497.57" cy="249.21" r="0.75" fill="#f6a86a"/>
<circle cx="497.57" cy="250.25" r="0.75" fill="#f47a3c"/>
<circle cx="498.98" cy="241.6" r="1.05" fill="#2e2e2e"/>
<circle cx="498.98" cy="222.98" r="1.05" fill="#2e2e2e"/>
<circle cx="498.98" cy="234.95" r="0.75" fill="#f6a86a"/>
<circle cx="498.98" cy="241.13" r="0.75" fill="#f47a3c"/>
<circle cx="500.38" cy="249.23" r="1.05" fill="#2e2e2e"/>
<circle cx="500.38" cy="241.82" r="0.75" fill="#f47a3c"/>
<circle cx="501.79" cy="252.9" r="1.05" fill="#2e2e2e"/>
<circle cx="501.79" cy="226.35" r="0.75" fill="#f6a86a"/>
<circle cx="501.79" cy="221.16" r="0.75" fill="#f47a3c"/>
<circle cx="501.79" cy="251.99" r="0.75" fill="#7fbf3f"/>
<circle cx="503.2" cy="254.32" r="1.05" fill="#2e2e2e"/>
<circle cx="503.2" cy="254.51" r="1.05" fill="#2e2e2e"/>
<circle cx="503.2" cy="219.13" r="0.75" fill="#f47a3c"/>
<circle cx="499.2" cy="167.4" r="0.8" fill="#f47a3c"/>
<circle cx="497.8" cy="167.4" r="0.8" fill="#f47a3c"/>
<circle cx="499" cy="170" r="0.8" fill="#7fbf3f"/>
<circle cx="493.5" cy="183" r="0.8" fill="#f47a3c"/>
<circle cx="497.8" cy="183" r="0.8" fill="#7fbf3f"/>
<circle cx="493.5" cy="190.5" r="0.8" fill="#7fbf3f"/>
<circle cx="495.5" cy="201" r="0.8" fill="#f47a3c"/>
<circle cx="495" cy="203.5" r="0.8" fill="#f47a3c"/>
<circle cx="498" cy="203.5" r="0.8" fill="#f47a3c"/>
<circle cx="501.5" cy="208" r="0.8" fill="#f47a3c"/>
<circle cx="490.2" cy="216.5" r="1.05" fill="#2e2e2e"/>
<circle cx="491.6" cy="216.5" r="1.05" fill="#2e2e2e"/>
<circle cx="452.3" cy="253.2" r="1.05" fill="#2e2e2e"/>
<text x="517" y="165.18" font-size="8" fill="#262626" text-anchor="start" stroke="#262626" stroke-width="0.1" textLength="29.4" lengthAdjust="spacingAndGlyphs">mutated</text>
<text x="517" y="174.88" font-size="8" fill="#262626" text-anchor="start" stroke="#262626" stroke-width="0.1" textLength="27.7" lengthAdjust="spacingAndGlyphs">position</text>
<circle cx="521.7" cy="182.6" r="1.9" fill="#2e2e2e"/>
<text x="528.7" y="185.3" font-size="7.5" fill="#262626" text-anchor="start" stroke="#262626" stroke-width="0.1" textLength="17.7" lengthAdjust="spacingAndGlyphs">W152</text>
<circle cx="521.7" cy="191.7" r="0.95" fill="#f6a86a"/>
<text x="528.7" y="194.4" font-size="7.5" fill="#262626" text-anchor="start" stroke="#262626" stroke-width="0.1" textLength="17.7" lengthAdjust="spacingAndGlyphs">L452</text>
<circle cx="521.7" cy="200.6" r="0.95" fill="#f47a3c"/>
<text x="528.7" y="203.3" font-size="7.5" fill="#262626" text-anchor="start" stroke="#262626" stroke-width="0.1" textLength="17.7" lengthAdjust="spacingAndGlyphs">E484</text>
<circle cx="521.7" cy="208.7" r="0.95" fill="#7fbf3f"/>
<text x="528.7" y="211.4" font-size="7.5" fill="#262626" text-anchor="start" stroke="#262626" stroke-width="0.1" textLength="17.7" lengthAdjust="spacingAndGlyphs">N501</text>
<text x="513.2" y="230.28" font-size="8" fill="#262626" text-anchor="start" stroke="#262626" stroke-width="0.1" textLength="35.3" lengthAdjust="spacingAndGlyphs">percentile</text>
<rect x="520.6" y="232.8" width="9.2" height="9.6" fill="#e2e2e2"/>
<text x="532" y="240.38" font-size="6.6" fill="#333" text-anchor="start" stroke="#333" stroke-width="0.1" textLength="11.6" lengthAdjust="spacingAndGlyphs">99%</text>
<rect x="520.6" y="242.35" width="9.2" height="9.6" fill="#d4d4d4"/>
<text x="532" y="249.93" font-size="6.6" fill="#333" text-anchor="start" stroke="#333" stroke-width="0.1" textLength="11.6" lengthAdjust="spacingAndGlyphs">95%</text>
<rect x="520.6" y="251.9" width="9.2" height="9.6" fill="#c6c6c6"/>
<text x="532" y="259.48" font-size="6.6" fill="#333" text-anchor="start" stroke="#333" stroke-width="0.1" textLength="11.6" lengthAdjust="spacingAndGlyphs">90%</text>
<rect x="520.6" y="261.45" width="9.2" height="9.6" fill="#b9b9b9"/>
<text x="532" y="269.03" font-size="6.6" fill="#333" text-anchor="start" stroke="#333" stroke-width="0.1" textLength="11.6" lengthAdjust="spacingAndGlyphs">75%</text>
</svg>
</body></html>
